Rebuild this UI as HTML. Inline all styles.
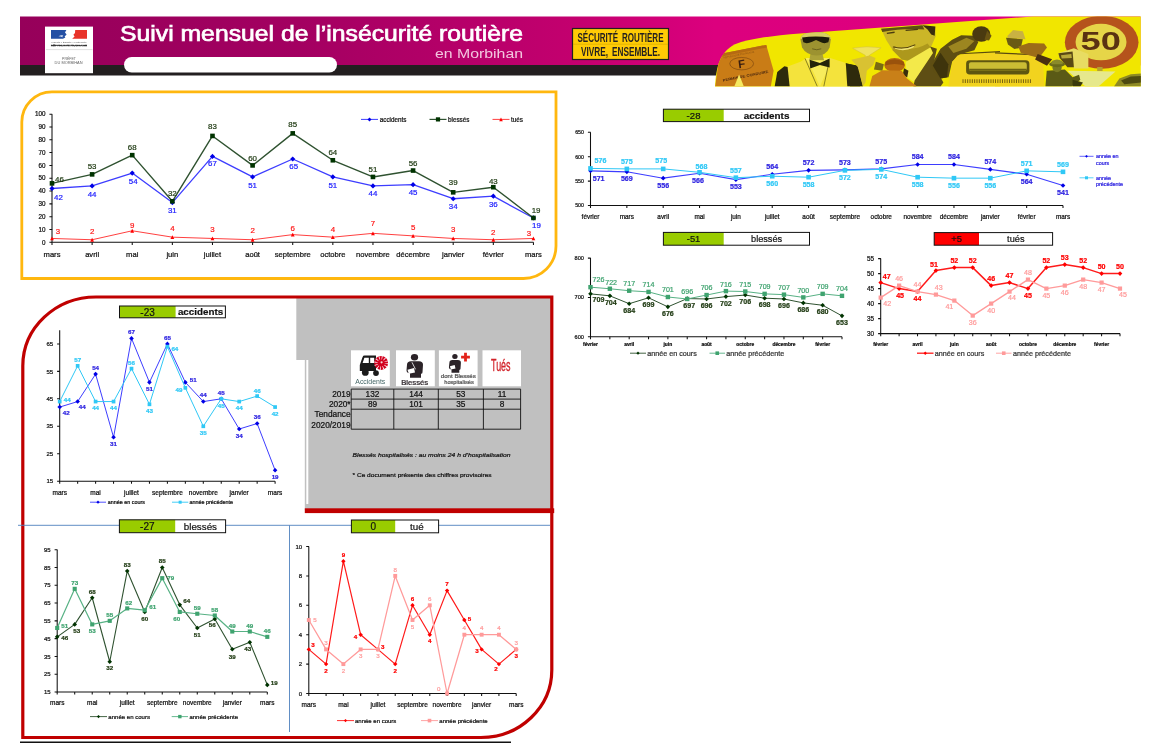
<!DOCTYPE html>
<html lang="fr"><head><meta charset="utf-8"><title>Suivi mensuel de l'insécurité routière en Morbihan</title>
<style>html,body{margin:0;padding:0;background:#fff}body{width:1160px;height:743px;overflow:hidden}svg{display:block}text{font-family:'Liberation Sans', sans-serif}</style>
</head><body>
<svg width="1160" height="743" viewBox="0 0 1160 743" font-family="'Liberation Sans', sans-serif">
<defs>
<linearGradient id="hg" x1="0" y1="0" x2="1" y2="0"><stop offset="0" stop-color="#96005a"/><stop offset="0.25" stop-color="#a30061"/><stop offset="0.5" stop-color="#c4006f"/><stop offset="0.62" stop-color="#dc007e"/><stop offset="1" stop-color="#e0007f"/></linearGradient>
<clipPath id="photo"><path d="M715 86.5C716 66 720 52 735 44.2C750 38.2 775 35.4 800 33.4L1033 16.5H1140.8V86.5Z"/></clipPath>
</defs>
<rect width="1160" height="743" fill="#fff"/>
<g id="header">
<rect x="20" y="16.5" width="1120.5" height="49" fill="url(#hg)"/>
<rect x="20" y="65" width="700" height="10.5" fill="#231f20"/>
<rect x="45" y="26.6" width="48" height="46.6" fill="#fff"/>
<path d="M51 30H66.4L65 32.4L66.6 34.6L64.6 36.4L65.4 37.6L63 38.8H51Z" fill="#2450a4"/>
<path d="M58.5 36.2Q61 34.6 63.4 35.4Q62 36 62.6 37.2Q60.6 36.4 58.5 36.2Z" fill="#dfe6f4"/>
<path d="M75.2 30H87V38.8H72.2L74.6 36.6L73.4 34.8L75 33Z" fill="#e8332a"/>
<g transform="translate(69,42.5) scale(0.1)"><text x="0" y="0" font-size="20" fill="#555" text-anchor="middle" textLength="350" lengthAdjust="spacingAndGlyphs" stroke="none">Liberté • Égalité • Fraternité</text></g>
<g transform="translate(69,46.1) scale(0.1)"><text x="0" y="0" font-size="23" fill="#333" text-anchor="middle" font-weight="bold" textLength="360" lengthAdjust="spacingAndGlyphs" stroke="#333" stroke-width="4" font-family="'Liberation Serif', serif">RÉPUBLIQUE FRANÇAISE</text></g>
<path d="M46 49.6H92.6" stroke="#c4c4c4" stroke-width="0.5"/>
<g transform="translate(69,59.9) scale(0.1)"><text x="0" y="0" font-size="29" fill="#666" text-anchor="middle" textLength="140" lengthAdjust="spacingAndGlyphs" stroke="none" font-family="'Liberation Serif', serif">PRÉFET</text></g>
<g transform="translate(68.6,63.7) scale(0.1)"><text x="0" y="0" font-size="29" fill="#666" text-anchor="middle" textLength="280" lengthAdjust="spacingAndGlyphs" stroke="none" font-family="'Liberation Serif', serif">DU MORBIHAN</text></g>
<rect x="124" y="57" width="213" height="15.5" rx="7.7" fill="#fff"/>
<text x="120" y="41.3" font-size="22.5" fill="#fff" stroke="#fff" stroke-width="0.7" textLength="403" lengthAdjust="spacingAndGlyphs">Suivi mensuel de l’insécurité routière</text>
<text x="523" y="57.5" font-size="12.5" fill="#f3c6df" text-anchor="end" textLength="88" lengthAdjust="spacingAndGlyphs">en Morbihan</text>
<rect x="572.5" y="28.5" width="96" height="31" fill="#ffcb05" stroke="#231f20" stroke-width="1.2"/>
<path d="M573 44.2H668" stroke="#c79a00" stroke-width="0.5"/>
<text x="620.5" y="42.1" font-size="12.2" word-spacing="2.5" fill="#231f20" font-weight="bold" text-anchor="middle" textLength="86" lengthAdjust="spacingAndGlyphs">SÉCURITÉ ROUTIÈRE</text>
<text x="620.5" y="56.4" font-size="12.2" word-spacing="2.5" fill="#231f20" font-weight="bold" text-anchor="middle" textLength="79" lengthAdjust="spacingAndGlyphs">VIVRE, ENSEMBLE.</text>
<g clip-path="url(#photo)">
<rect x="700" y="10" width="450" height="80" fill="#f1e600"/>
<g transform="translate(710,10) scale(0.12931)">
<path d="M75 340L435 270L492 470L470 592H40Z" fill="#c97c16"/>
<path d="M75 340L435 270L440 290L80 362Z" fill="#b56a12"/>
<ellipse cx="245" cy="415" rx="92" ry="48" fill="none" stroke="#6a3a10" stroke-width="4"/>
<text x="245" y="448" font-size="88" font-weight="bold" fill="#3a1e10" text-anchor="middle" transform="rotate(-8 245 420)">F</text>
<text x="225" y="352" font-size="19" fill="#8a5212" text-anchor="middle" transform="rotate(-11 225 352)" textLength="240" lengthAdjust="spacingAndGlyphs">RÉPUBLIQUE FRANÇAISE</text>
<text x="275" y="520" font-size="27" font-weight="bold" fill="#4a2810" text-anchor="middle" transform="rotate(-11 275 512)" textLength="360" lengthAdjust="spacingAndGlyphs">PERMIS DE CONDUIRE</text>
<path d="M225 498L262 592H188Z" fill="#f6ea60"/>
<path d="M590 440L700 400L745 372L930 372L1050 410L1062 592H600Z" fill="#f4e33c"/>
<path d="M740 372L930 372L905 470L850 592L800 480Z" fill="#f7ec5c"/>
<path d="M500 592L520 480L575 435L600 440L616 592Z" fill="#2e2a0c"/>
<path d="M1050 410L1120 430L1160 470V592H1062Z" fill="#2e2a0c"/>
<path d="M735 375L830 592M912 440L880 592" stroke="#4e4a10" stroke-width="5" fill="none"/>
<path d="M778 330L868 330L882 388L768 388Z" fill="#aca238"/>
<path d="M700 230Q700 172 818 170Q936 172 934 230L925 290Q900 352 825 352Q745 350 712 290Z" fill="#9c9230"/>
<path d="M700 225Q702 172 818 170Q934 172 934 225Q818 195 700 225Z" fill="#d6cf62"/>
<path d="M712 212Q818 198 925 212L915 250Q880 265 850 245L820 232L790 245Q750 265 722 250Z" fill="#1c1c0a"/>
<path d="M790 300Q825 315 860 300" stroke="#5a5418" stroke-width="6" fill="none"/>
<path d="M770 385L850 410L925 375L925 445L850 425L775 452Z" fill="#24240a"/>
</g>
<g transform="translate(850,10) scale(0.12931)">
<path d="M0 420L60 430L100 592H0Z" fill="#2e2a0c"/>
<path d="M20 295Q130 275 240 292L150 350V395H118V350Z" fill="#f0e35e" stroke="#d2bd34" stroke-width="4"/>
<path d="M10 385L150 352L198 372L180 425L130 470L120 560L100 592L60 440Z" fill="#d9c232"/>
<path d="M240 145L560 118L660 130L662 205L625 290L560 362L470 396L400 382L330 312L280 232Z" fill="#cbb628"/>
<path d="M330 312L400 382L470 396L560 362L625 290L600 260Q480 330 330 280Z" fill="#ad981c"/>
<path d="M560 118L660 128L655 200L628 190L600 150Z" fill="#3a2e0c"/>
<path d="M240 145L560 118L575 150Q400 140 250 170Z" fill="#5e4e12"/>
<path d="M285 180L345 172M430 158L525 150" stroke="#4a3c10" stroke-width="10" fill="none"/>
<path d="M335 285Q420 310 505 268" stroke="#5a4810" stroke-width="9" fill="none"/>
<path d="M345 292Q420 312 498 276L490 290Q420 325 350 300Z" fill="#efe37a"/>
<path d="M430 402L620 290L642 332L500 560L440 520Z" fill="#f3e94a"/>
<path d="M620 282L672 300L645 420L722 560L700 592H490L500 545L642 332Z" fill="#5e4e14"/>
<path d="M418 450L452 470L442 522L408 500Z" fill="#3a2e0c"/>
<path d="M200 400L262 420L250 470L185 460Z" fill="#7a6a14"/>
<ellipse cx="345" cy="425" rx="80" ry="54" fill="#b8690f"/>
<path d="M275 400Q345 360 415 400L420 430Q345 405 272 430Z" fill="#9a520c"/>
<path d="M150 592L172 510L250 465L400 470L440 530L512 585V592Z" fill="#c98018"/>
<path d="M630 420L700 300L790 230L860 195L960 200L992 250L962 312L850 342L790 400L762 520L700 530L650 480Z" fill="#5e4e12"/>
<path d="M760 282L900 215L962 240L900 300L800 332Z" fill="#9c8620"/>
<path d="M640 430L700 330L760 420L750 520L700 530Z" fill="#3e340c"/>
<ellipse cx="1015" cy="185" rx="70" ry="60" fill="#4a3a10"/>
<path d="M1060 160L1095 200L1075 235L1040 230Z" fill="#6a5412"/>
<path d="M760 592L792 400L832 352L900 336L1160 330V592Z" fill="#f2d31e"/>
<path d="M850 338L1160 322" stroke="#5a4a10" stroke-width="9" fill="none"/>
<path d="M925 388H1160V498H925Q898 498 898 471V415Q898 388 925 388Z" fill="#5e5610"/>
<path d="M935 405H1160V470H935Q920 470 920 455V420Q920 405 935 405Z" fill="#cabd34"/>
<path d="M920 455H1160V470H935Q920 470 920 455Z" fill="#6a6212"/>
<path d="M870 550H1160" stroke="#7a6410" stroke-width="28" stroke-dasharray="8 10" fill="none"/>
</g>
<g transform="translate(995,10) scale(0.12931)">
<path d="M0 332L300 345L372 400L382 592H0Z" fill="#f2d31e"/>
<path d="M0 332L300 345" stroke="#5a4a10" stroke-width="9" fill="none"/>
<path d="M0 388H238Q266 388 266 416V470Q266 498 238 498H0Z" fill="#5e5610"/>
<path d="M0 405H228Q246 405 246 423V452Q246 470 228 470H0Z" fill="#cabd34"/>
<path d="M0 455H246Q246 470 228 470H0Z" fill="#6a6212"/>
<path d="M0 550H282" stroke="#7a6410" stroke-width="28" stroke-dasharray="8 10" fill="none"/>
<path d="M95 202L140 155L215 165L236 226L100 216Z" fill="#c9b242"/>
<path d="M85 215L215 226L200 292L150 302L100 266Z" fill="#6a5a14"/>
<path d="M180 282L260 256L380 260L402 290L340 372L200 332Z" fill="#9c6c18"/>
<path d="M330 340L442 380L402 432L310 382Z" fill="#4a3010"/>
<ellipse cx="825" cy="250" rx="285" ry="205" fill="#b5531c"/>
<ellipse cx="820" cy="248" rx="197" ry="141" fill="#e6d548"/>
<text x="818" y="312" font-size="205" font-weight="bold" fill="#5a3212" text-anchor="middle" textLength="312" lengthAdjust="spacingAndGlyphs">50</text>
<path d="M790 440H832V472H790Z" fill="#b5a030"/>
<path d="M490 335L610 295L722 340V452H610L600 380L500 372Z" fill="#e8dc62"/>
<path d="M490 335L600 320L610 442L560 442L500 372Z" fill="#5a4a14"/>
<path d="M510 350L590 340L594 372L516 376Z" fill="#b8a83a"/>
<path d="M560 470L932 476L800 592H700Z" fill="#e6e88c"/>
<path d="M400 470L540 460L600 520L650 500L660 540L592 592H390Z" fill="#5a5a16"/>
<ellipse cx="480" cy="445" rx="36" ry="36" fill="#7a7a24"/>
<ellipse cx="480" cy="420" rx="62" ry="22" fill="#6a6a1a"/>
<path d="M440 395Q480 370 520 395L525 420H435Z" fill="#8a8a2a"/>
<path d="M600 540L680 560L660 592H600Z" fill="#3a3a0c"/>
<path d="M920 592L962 530L1050 496L1132 490V592Z" fill="#8e8a24"/>
<path d="M975 545L1050 515L1132 510V560L1000 575Z" fill="#4e4a10"/>
</g>
</g>

</g>
<g id="c1">
<path d="M52 91.8H556V246A32.5 32.5 0 0 1 523.5 278.5H21.8V122A30.2 30.2 0 0 1 52 91.8Z" fill="#fff" stroke="#ffb70f" stroke-width="2.8"/>
<path d="M52 114.15V242.3H533.44" fill="none" stroke="#111" stroke-width="1.05"/>
<path d="M49.4 242.3h2.8M49.4 229.49h2.8M49.4 216.67h2.8M49.4 203.86h2.8M49.4 191.04h2.8M49.4 178.23h2.8M49.4 165.41h2.8M49.4 152.59h2.8M49.4 139.78h2.8M49.4 126.97h2.8M49.4 114.15h2.8M52 242.3v2.6M92.12 242.3v2.6M132.24 242.3v2.6M172.36 242.3v2.6M212.48 242.3v2.6M252.6 242.3v2.6M292.72 242.3v2.6M332.84 242.3v2.6M372.96 242.3v2.6M413.08 242.3v2.6M453.2 242.3v2.6M493.32 242.3v2.6M533.44 242.3v2.6" stroke="#111" stroke-width="1.05" fill="none"/>
<text x="45.4" y="244.57" font-size="6.3" fill="#111" text-anchor="end" stroke="#111" stroke-width="0.22">0</text>
<text x="45.4" y="231.75" font-size="6.3" fill="#111" text-anchor="end" stroke="#111" stroke-width="0.22">10</text>
<text x="45.4" y="218.94" font-size="6.3" fill="#111" text-anchor="end" stroke="#111" stroke-width="0.22">20</text>
<text x="45.4" y="206.12" font-size="6.3" fill="#111" text-anchor="end" stroke="#111" stroke-width="0.22">30</text>
<text x="45.4" y="193.31" font-size="6.3" fill="#111" text-anchor="end" stroke="#111" stroke-width="0.22">40</text>
<text x="45.4" y="180.49" font-size="6.3" fill="#111" text-anchor="end" stroke="#111" stroke-width="0.22">50</text>
<text x="45.4" y="167.68" font-size="6.3" fill="#111" text-anchor="end" stroke="#111" stroke-width="0.22">60</text>
<text x="45.4" y="154.86" font-size="6.3" fill="#111" text-anchor="end" stroke="#111" stroke-width="0.22">70</text>
<text x="45.4" y="142.05" font-size="6.3" fill="#111" text-anchor="end" stroke="#111" stroke-width="0.22">80</text>
<text x="45.4" y="129.23" font-size="6.3" fill="#111" text-anchor="end" stroke="#111" stroke-width="0.22">90</text>
<text x="45.4" y="116.42" font-size="6.3" fill="#111" text-anchor="end" stroke="#111" stroke-width="0.22">100</text>
<text x="52" y="256.8" font-size="7.6" fill="#111" text-anchor="middle" stroke="#111" stroke-width="0.22">mars</text>
<text x="92.12" y="256.8" font-size="7.6" fill="#111" text-anchor="middle" stroke="#111" stroke-width="0.22">avril</text>
<text x="132.24" y="256.8" font-size="7.6" fill="#111" text-anchor="middle" stroke="#111" stroke-width="0.22">mai</text>
<text x="172.36" y="256.8" font-size="7.6" fill="#111" text-anchor="middle" stroke="#111" stroke-width="0.22">juin</text>
<text x="212.48" y="256.8" font-size="7.6" fill="#111" text-anchor="middle" stroke="#111" stroke-width="0.22">juillet</text>
<text x="252.6" y="256.8" font-size="7.6" fill="#111" text-anchor="middle" stroke="#111" stroke-width="0.22">août</text>
<text x="292.72" y="256.8" font-size="7.6" fill="#111" text-anchor="middle" stroke="#111" stroke-width="0.22">septembre</text>
<text x="332.84" y="256.8" font-size="7.6" fill="#111" text-anchor="middle" stroke="#111" stroke-width="0.22">octobre</text>
<text x="372.96" y="256.8" font-size="7.6" fill="#111" text-anchor="middle" stroke="#111" stroke-width="0.22">novembre</text>
<text x="413.08" y="256.8" font-size="7.6" fill="#111" text-anchor="middle" stroke="#111" stroke-width="0.22">décembre</text>
<text x="453.2" y="256.8" font-size="7.6" fill="#111" text-anchor="middle" stroke="#111" stroke-width="0.22">janvier</text>
<text x="493.32" y="256.8" font-size="7.6" fill="#111" text-anchor="middle" stroke="#111" stroke-width="0.22">février</text>
<text x="533.44" y="256.8" font-size="7.6" fill="#111" text-anchor="middle" stroke="#111" stroke-width="0.22">mars</text>
<polyline points="52,188.48 92.12,185.91 132.24,173.1 172.36,202.57 212.48,156.44 252.6,176.94 292.72,159 332.84,176.94 372.96,185.91 413.08,184.63 453.2,198.73 493.32,196.17 533.44,217.95" fill="none" stroke="#3d3dff" stroke-width="1.3" stroke-linejoin="round"/>
<path d="M52 185.88L54.6 188.48L52 191.08L49.4 188.48Z" fill="#0000e6"/>
<path d="M92.12 183.31L94.72 185.91L92.12 188.51L89.52 185.91Z" fill="#0000e6"/>
<path d="M132.24 170.5L134.84 173.1L132.24 175.7L129.64 173.1Z" fill="#0000e6"/>
<path d="M172.36 199.97L174.96 202.57L172.36 205.17L169.76 202.57Z" fill="#0000e6"/>
<path d="M212.48 153.84L215.08 156.44L212.48 159.04L209.88 156.44Z" fill="#0000e6"/>
<path d="M252.6 174.34L255.2 176.94L252.6 179.54L250 176.94Z" fill="#0000e6"/>
<path d="M292.72 156.4L295.32 159L292.72 161.6L290.12 159Z" fill="#0000e6"/>
<path d="M332.84 174.34L335.44 176.94L332.84 179.54L330.24 176.94Z" fill="#0000e6"/>
<path d="M372.96 183.31L375.56 185.91L372.96 188.51L370.36 185.91Z" fill="#0000e6"/>
<path d="M413.08 182.03L415.68 184.63L413.08 187.23L410.48 184.63Z" fill="#0000e6"/>
<path d="M453.2 196.13L455.8 198.73L453.2 201.33L450.6 198.73Z" fill="#0000e6"/>
<path d="M493.32 193.57L495.92 196.17L493.32 198.77L490.72 196.17Z" fill="#0000e6"/>
<path d="M533.44 215.35L536.04 217.95L533.44 220.55L530.84 217.95Z" fill="#0000e6"/>
<text x="54" y="199.88" font-size="7.9" fill="#2222ff" text-anchor="start" stroke="#2222ff" stroke-width="0.22">42</text>
<text x="92.12" y="197.31" font-size="7.9" fill="#2222ff" text-anchor="middle" stroke="#2222ff" stroke-width="0.22">44</text>
<text x="133.24" y="183.6" font-size="7.9" fill="#2222ff" text-anchor="middle" stroke="#2222ff" stroke-width="0.22">54</text>
<text x="172.36" y="213.07" font-size="7.9" fill="#2222ff" text-anchor="middle" stroke="#2222ff" stroke-width="0.22">31</text>
<text x="212.48" y="165.94" font-size="7.9" fill="#2222ff" text-anchor="middle" stroke="#2222ff" stroke-width="0.22">67</text>
<text x="252.6" y="188.34" font-size="7.9" fill="#2222ff" text-anchor="middle" stroke="#2222ff" stroke-width="0.22">51</text>
<text x="293.72" y="168.9" font-size="7.9" fill="#2222ff" text-anchor="middle" stroke="#2222ff" stroke-width="0.22">65</text>
<text x="332.84" y="188.34" font-size="7.9" fill="#2222ff" text-anchor="middle" stroke="#2222ff" stroke-width="0.22">51</text>
<text x="372.96" y="196.41" font-size="7.9" fill="#2222ff" text-anchor="middle" stroke="#2222ff" stroke-width="0.22">44</text>
<text x="413.08" y="194.53" font-size="7.9" fill="#2222ff" text-anchor="middle" stroke="#2222ff" stroke-width="0.22">45</text>
<text x="453.2" y="208.63" font-size="7.9" fill="#2222ff" text-anchor="middle" stroke="#2222ff" stroke-width="0.22">34</text>
<text x="493.32" y="206.87" font-size="7.9" fill="#2222ff" text-anchor="middle" stroke="#2222ff" stroke-width="0.22">36</text>
<text x="536.44" y="227.95" font-size="7.9" fill="#2222ff" text-anchor="middle" stroke="#2222ff" stroke-width="0.22">19</text>
<polyline points="52,183.35 92.12,174.38 132.24,155.16 172.36,201.29 212.48,135.94 252.6,165.41 292.72,133.37 332.84,160.28 372.96,176.94 413.08,170.54 453.2,192.32 493.32,187.2 533.44,217.95" fill="none" stroke="#2f5230" stroke-width="1.4" stroke-linejoin="round"/>
<rect x="49.7" y="181.05" width="4.6" height="4.6" fill="#003300"/>
<rect x="89.82" y="172.08" width="4.6" height="4.6" fill="#003300"/>
<rect x="129.94" y="152.86" width="4.6" height="4.6" fill="#003300"/>
<rect x="170.06" y="198.99" width="4.6" height="4.6" fill="#003300"/>
<rect x="210.18" y="133.64" width="4.6" height="4.6" fill="#003300"/>
<rect x="250.3" y="163.11" width="4.6" height="4.6" fill="#003300"/>
<rect x="290.42" y="131.07" width="4.6" height="4.6" fill="#003300"/>
<rect x="330.54" y="157.98" width="4.6" height="4.6" fill="#003300"/>
<rect x="370.66" y="174.64" width="4.6" height="4.6" fill="#003300"/>
<rect x="410.78" y="168.24" width="4.6" height="4.6" fill="#003300"/>
<rect x="450.9" y="190.02" width="4.6" height="4.6" fill="#003300"/>
<rect x="491.02" y="184.9" width="4.6" height="4.6" fill="#003300"/>
<rect x="531.14" y="215.65" width="4.6" height="4.6" fill="#003300"/>
<text x="55" y="181.65" font-size="7.9" fill="#1f3a12" text-anchor="start" stroke="#1f3a12" stroke-width="0.22">46</text>
<text x="92.12" y="169.38" font-size="7.9" fill="#1f3a12" text-anchor="middle" stroke="#1f3a12" stroke-width="0.22">53</text>
<text x="132.24" y="150.16" font-size="7.9" fill="#1f3a12" text-anchor="middle" stroke="#1f3a12" stroke-width="0.22">68</text>
<text x="172.36" y="196.29" font-size="7.9" fill="#1f3a12" text-anchor="middle" stroke="#1f3a12" stroke-width="0.22">32</text>
<text x="212.48" y="129.34" font-size="7.9" fill="#1f3a12" text-anchor="middle" stroke="#1f3a12" stroke-width="0.22">83</text>
<text x="252.6" y="161.41" font-size="7.9" fill="#1f3a12" text-anchor="middle" stroke="#1f3a12" stroke-width="0.22">60</text>
<text x="292.72" y="126.57" font-size="7.9" fill="#1f3a12" text-anchor="middle" stroke="#1f3a12" stroke-width="0.22">85</text>
<text x="332.84" y="155.28" font-size="7.9" fill="#1f3a12" text-anchor="middle" stroke="#1f3a12" stroke-width="0.22">64</text>
<text x="372.96" y="171.94" font-size="7.9" fill="#1f3a12" text-anchor="middle" stroke="#1f3a12" stroke-width="0.22">51</text>
<text x="413.08" y="165.54" font-size="7.9" fill="#1f3a12" text-anchor="middle" stroke="#1f3a12" stroke-width="0.22">56</text>
<text x="453.2" y="184.92" font-size="7.9" fill="#1f3a12" text-anchor="middle" stroke="#1f3a12" stroke-width="0.22">39</text>
<text x="493.32" y="184.4" font-size="7.9" fill="#1f3a12" text-anchor="middle" stroke="#1f3a12" stroke-width="0.22">43</text>
<text x="536.04" y="213.45" font-size="7.9" fill="#1f3a12" text-anchor="middle" stroke="#1f3a12" stroke-width="0.22">19</text>
<polyline points="52,238.46 92.12,239.74 132.24,230.77 172.36,237.17 212.48,238.46 252.6,239.74 292.72,234.61 332.84,237.17 372.96,233.33 413.08,235.89 453.2,238.46 493.32,239.74 533.44,238.46" fill="none" stroke="#ff2a2a" stroke-width="0.9" stroke-linejoin="round"/>
<path d="M52 236.56L53.9 240.36L50.1 240.36Z" fill="#ff0000"/>
<path d="M92.12 237.84L94.02 241.64L90.22 241.64Z" fill="#ff0000"/>
<path d="M132.24 228.87L134.14 232.67L130.34 232.67Z" fill="#ff0000"/>
<path d="M172.36 235.27L174.26 239.07L170.46 239.07Z" fill="#ff0000"/>
<path d="M212.48 236.56L214.38 240.36L210.58 240.36Z" fill="#ff0000"/>
<path d="M252.6 237.84L254.5 241.64L250.7 241.64Z" fill="#ff0000"/>
<path d="M292.72 232.71L294.62 236.51L290.82 236.51Z" fill="#ff0000"/>
<path d="M332.84 235.27L334.74 239.07L330.94 239.07Z" fill="#ff0000"/>
<path d="M372.96 231.43L374.86 235.23L371.06 235.23Z" fill="#ff0000"/>
<path d="M413.08 233.99L414.98 237.79L411.18 237.79Z" fill="#ff0000"/>
<path d="M453.2 236.56L455.1 240.36L451.3 240.36Z" fill="#ff0000"/>
<path d="M493.32 237.84L495.22 241.64L491.42 241.64Z" fill="#ff0000"/>
<path d="M533.44 236.56L535.34 240.36L531.54 240.36Z" fill="#ff0000"/>
<text x="58" y="233.96" font-size="7.9" fill="#ff1a1a" text-anchor="middle" stroke="#ff1a1a" stroke-width="0.22">3</text>
<text x="92.12" y="234.44" font-size="7.9" fill="#ff1a1a" text-anchor="middle" stroke="#ff1a1a" stroke-width="0.22">2</text>
<text x="132.24" y="228.07" font-size="7.9" fill="#ff1a1a" text-anchor="middle" stroke="#ff1a1a" stroke-width="0.22">9</text>
<text x="172.36" y="231.17" font-size="7.9" fill="#ff1a1a" text-anchor="middle" stroke="#ff1a1a" stroke-width="0.22">4</text>
<text x="212.48" y="231.76" font-size="7.9" fill="#ff1a1a" text-anchor="middle" stroke="#ff1a1a" stroke-width="0.22">3</text>
<text x="252.6" y="233.04" font-size="7.9" fill="#ff1a1a" text-anchor="middle" stroke="#ff1a1a" stroke-width="0.22">2</text>
<text x="292.72" y="230.71" font-size="7.9" fill="#ff1a1a" text-anchor="middle" stroke="#ff1a1a" stroke-width="0.22">6</text>
<text x="332.84" y="232.27" font-size="7.9" fill="#ff1a1a" text-anchor="middle" stroke="#ff1a1a" stroke-width="0.22">4</text>
<text x="372.96" y="226.13" font-size="7.9" fill="#ff1a1a" text-anchor="middle" stroke="#ff1a1a" stroke-width="0.22">7</text>
<text x="413.08" y="229.69" font-size="7.9" fill="#ff1a1a" text-anchor="middle" stroke="#ff1a1a" stroke-width="0.22">5</text>
<text x="453.2" y="232.36" font-size="7.9" fill="#ff1a1a" text-anchor="middle" stroke="#ff1a1a" stroke-width="0.22">3</text>
<text x="493.32" y="234.84" font-size="7.9" fill="#ff1a1a" text-anchor="middle" stroke="#ff1a1a" stroke-width="0.22">2</text>
<text x="528.84" y="236.46" font-size="7.9" fill="#ff1a1a" text-anchor="middle" stroke="#ff1a1a" stroke-width="0.22">3</text>
<path d="M361 119.4H378" stroke="#3d3dff" stroke-width="1"/>
<path d="M369.5 117.4L371.5 119.4L369.5 121.4L367.5 119.4Z" fill="#0000e6"/>
<text x="379.8" y="121.54" font-size="6.3" fill="#111" stroke="#111" stroke-width="0.22">accidents</text>
<path d="M429.5 119.4H446.5" stroke="#2f5230" stroke-width="1.2"/>
<rect x="435.9" y="117.3" width="4.2" height="4.2" fill="#003300"/>
<text x="448" y="121.54" font-size="6.3" fill="#111" stroke="#111" stroke-width="0.22">blessés</text>
<path d="M492.5 119.4H509.5" stroke="#ff2a2a" stroke-width="0.9"/>
<path d="M501 117.6L502.8 121.2L499.2 121.2Z" fill="#ff0000"/>
<text x="511" y="121.54" font-size="6.3" fill="#111" stroke="#111" stroke-width="0.22">tués</text>
</g>
<g id="frame">
<rect x="296.3" y="298" width="255" height="62" fill="#c0c0c0"/>
<rect x="304.8" y="359" width="246.5" height="151" fill="#c0c0c0"/>
<rect x="306.3" y="360" width="2" height="144" fill="#fff"/>
<rect x="304.8" y="508.3" width="249.4" height="4.8" fill="#c00000"/>
<path d="M96 297H551.8V670A71 67.5 0 0 1 480.8 737.5H22.8V366A73.2 69 0 0 1 96 297Z" fill="none" stroke="#c00000" stroke-width="3.2"/>
<path d="M20 742.2H511" stroke="#111" stroke-width="1.4"/>
<path d="M18 525.3H550M289.5 525.3V732" stroke="#4f81bd" stroke-width="0.9" fill="none"/>
</g>
<g id="table">
<rect x="351" y="350.3" width="38.8" height="36" fill="#fff"/>
<rect x="396" y="350.3" width="38.8" height="36" fill="#fff"/>
<rect x="438.9" y="350.3" width="38.7" height="36" fill="#fff"/>
<rect x="482.5" y="350.3" width="38.5" height="36" fill="#fff"/>
<g transform="translate(351,350.3)">
<path d="M8.8 14.6L11.6 6.6Q12 5.2 13.6 5.2H25V20.8H8.8Z" fill="#1a1a1a"/>
<path d="M13.4 7.4h4.4v5.4h-6.2zM19.2 7.4h4v5.4h-4z" fill="#fff"/>
<circle cx="14.3" cy="22.1" r="3.4" fill="#1a1a1a"/><circle cx="25" cy="22.8" r="2.9" fill="#1a1a1a"/>
<circle cx="30.1" cy="12.6" r="7" fill="#d2001e"/>
<circle cx="30.1" cy="12.6" r="5.2" fill="none" stroke="#fff" stroke-width="3.4" stroke-dasharray="0.7 2.02"/>
<circle cx="30.1" cy="12.6" r="2.4" fill="#d2001e"/><circle cx="30.6" cy="12" r="1.1" fill="#f3dada"/>
<text x="19.3" y="33.4" font-size="8" fill="#456767" text-anchor="middle" textLength="30" lengthAdjust="spacingAndGlyphs" stroke="none">Accidents</text>
</g>
<g transform="translate(396,350.3)">
<ellipse cx="18.5" cy="7" rx="3.6" ry="3.2" fill="#2b2328"/>
<path d="M11 14.5Q11 11 15 11H23Q27 11 27 14.5L26.5 22Q26.5 23.5 25 23.5V27.5H14V23Q10.5 23 10.5 20Z" fill="#2b2328"/>
<path d="M11.5 19.5L18 17.6L19 22.2L12.8 23.4Z" fill="#fff"/><path d="M16 12L19.5 19" stroke="#fff" stroke-width="0.8"/>
<text x="18.7" y="34.6" font-size="6.6" fill="#2b2328" text-anchor="middle" textLength="27" lengthAdjust="spacingAndGlyphs" stroke="#2b2328" stroke-width="0.22">Blessés</text>
</g>
<g transform="translate(438.9,350.3)">
<ellipse cx="16" cy="6.2" rx="2.7" ry="2.5" fill="#2b2328"/>
<path d="M10.5 12.5Q10.5 9.8 13.5 9.8H19Q22 9.8 22 12.5L21.6 18.5Q21.6 19.6 20.4 19.6V22.5H12.6V19.2Q10 19.2 10 17Z" fill="#2b2328"/>
<path d="M11 16L15.8 14.6L16.6 18.2L12 19.2Z" fill="#fff"/>
<path d="M25.2 2.4h2.8v3h3v2.8h-3v3h-2.8v-3h-3V5.4h3z" fill="#e2231a"/>
<text x="19.4" y="27.6" font-size="5.3" fill="#555" text-anchor="middle" textLength="35" lengthAdjust="spacingAndGlyphs" stroke="#555" stroke-width="0.22">dont Blessés</text>
<text x="20.1" y="33.6" font-size="5.3" fill="#555" text-anchor="middle" textLength="29.5" lengthAdjust="spacingAndGlyphs" stroke="#555" stroke-width="0.22">hospitalisés</text>
</g>
<text x="500.8" y="371.4" font-size="16.5" fill="#d2232a" stroke="#d2232a" stroke-width="0.35" text-anchor="middle" textLength="19.5" lengthAdjust="spacingAndGlyphs">Tués</text>
<path d="M351.2 389.1V429.2M393.8 389.1V429.2M438.3 389.1V429.2M483.4 389.1V429.2M520.6 389.1V429.2M351.2 389.1H520.6M351.2 399.1H520.6M351.2 409.2H520.6M351.2 429.2H520.6" stroke="#111" stroke-width="0.9" fill="none"/>
<text x="372.5" y="397.1" font-size="8.3" fill="#111" text-anchor="middle" stroke="#111" stroke-width="0.22">132</text>
<text x="416.05" y="397.1" font-size="8.3" fill="#111" text-anchor="middle" stroke="#111" stroke-width="0.22">144</text>
<text x="460.85" y="397.1" font-size="8.3" fill="#111" text-anchor="middle" stroke="#111" stroke-width="0.22">53</text>
<text x="502" y="397.1" font-size="8.3" fill="#111" text-anchor="middle" stroke="#111" stroke-width="0.22">11</text>
<text x="372.5" y="407.1" font-size="8.3" fill="#111" text-anchor="middle" stroke="#111" stroke-width="0.22">89</text>
<text x="416.05" y="407.1" font-size="8.3" fill="#111" text-anchor="middle" stroke="#111" stroke-width="0.22">101</text>
<text x="460.85" y="407.1" font-size="8.3" fill="#111" text-anchor="middle" stroke="#111" stroke-width="0.22">35</text>
<text x="502" y="407.1" font-size="8.3" fill="#111" text-anchor="middle" stroke="#111" stroke-width="0.22">8</text>
<text x="350.6" y="397" font-size="8.3" fill="#111" text-anchor="end" stroke="#111" stroke-width="0.22">2019</text>
<text x="350.6" y="407" font-size="8.3" fill="#111" text-anchor="end" stroke="#111" stroke-width="0.22">2020*</text>
<text x="350.6" y="417.3" font-size="8.3" fill="#111" text-anchor="end" stroke="#111" stroke-width="0.22">Tendance</text>
<text x="350.6" y="427.5" font-size="8.3" fill="#111" text-anchor="end" stroke="#111" stroke-width="0.22">2020/2019</text>
<text x="352.6" y="456.5" font-size="6.1" fill="#111" font-style="italic" textLength="158" lengthAdjust="spacingAndGlyphs" stroke="#111" stroke-width="0.22">Blessés hospitalisés : au moins 24 h d’hospitalisation</text>
<text x="352.6" y="477" font-size="6.1" fill="#111" textLength="139" lengthAdjust="spacingAndGlyphs" stroke="#111" stroke-width="0.22">* Ce document présente des chiffres provisoires</text>
</g>
<g id="c2">
<rect x="119.5" y="306" width="105.9" height="11.8" fill="#fff"/>
<rect x="119.5" y="306" width="56.1" height="11.8" fill="#99cc00"/>
<rect x="119.5" y="306" width="105.9" height="11.8" fill="none" stroke="#111" stroke-width="1"/>
<text x="147.55" y="315.5" font-size="10" fill="#111" text-anchor="middle" stroke="#111" stroke-width="0.2">-23</text>
<text x="200.5" y="315.23" font-size="9.8" fill="#111" text-anchor="middle" font-weight="bold" stroke="#111" stroke-width="0.2">accidents</text>
<path d="M59.7 330.17V481.2H275.1" fill="none" stroke="#111" stroke-width="1.05"/>
<path d="M57.1 481.2h2.8M57.1 453.74h2.8M57.1 426.28h2.8M57.1 398.82h2.8M57.1 371.36h2.8M57.1 343.9h2.8M59.7 481.2v2.6M77.65 481.2v2.6M95.6 481.2v2.6M113.55 481.2v2.6M131.5 481.2v2.6M149.45 481.2v2.6M167.4 481.2v2.6M185.35 481.2v2.6M203.3 481.2v2.6M221.25 481.2v2.6M239.2 481.2v2.6M257.15 481.2v2.6M275.1 481.2v2.6" stroke="#111" stroke-width="1.05" fill="none"/>
<text x="53.1" y="483.36" font-size="6" fill="#111" text-anchor="end" stroke="#111" stroke-width="0.22">15</text>
<text x="53.1" y="455.9" font-size="6" fill="#111" text-anchor="end" stroke="#111" stroke-width="0.22">25</text>
<text x="53.1" y="428.44" font-size="6" fill="#111" text-anchor="end" stroke="#111" stroke-width="0.22">35</text>
<text x="53.1" y="400.98" font-size="6" fill="#111" text-anchor="end" stroke="#111" stroke-width="0.22">45</text>
<text x="53.1" y="373.52" font-size="6" fill="#111" text-anchor="end" stroke="#111" stroke-width="0.22">55</text>
<text x="53.1" y="346.06" font-size="6" fill="#111" text-anchor="end" stroke="#111" stroke-width="0.22">65</text>
<text x="59.7" y="494.8" font-size="6.5" fill="#111" text-anchor="middle" stroke="#111" stroke-width="0.22">mars</text>
<text x="95.6" y="494.8" font-size="6.5" fill="#111" text-anchor="middle" stroke="#111" stroke-width="0.22">mai</text>
<text x="131.5" y="494.8" font-size="6.5" fill="#111" text-anchor="middle" stroke="#111" stroke-width="0.22">juillet</text>
<text x="167.4" y="494.8" font-size="6.5" fill="#111" text-anchor="middle" stroke="#111" stroke-width="0.22">septembre</text>
<text x="203.3" y="494.8" font-size="6.5" fill="#111" text-anchor="middle" stroke="#111" stroke-width="0.22">novembre</text>
<text x="239.2" y="494.8" font-size="6.5" fill="#111" text-anchor="middle" stroke="#111" stroke-width="0.22">janvier</text>
<text x="275.1" y="494.8" font-size="6.5" fill="#111" text-anchor="middle" stroke="#111" stroke-width="0.22">mars</text>
<polyline points="59.7,407.06 77.65,401.57 95.6,374.11 113.55,437.26 131.5,338.41 149.45,382.34 167.4,343.9 185.35,382.34 203.3,401.57 221.25,398.82 239.2,429.03 257.15,423.53 275.1,470.22" fill="none" stroke="#3d3dff" stroke-width="1" stroke-linejoin="round"/>
<path d="M59.7 404.76L62 407.06L59.7 409.36L57.4 407.06Z" fill="#0000e6"/>
<path d="M77.65 399.27L79.95 401.57L77.65 403.87L75.35 401.57Z" fill="#0000e6"/>
<path d="M95.6 371.81L97.9 374.11L95.6 376.41L93.3 374.11Z" fill="#0000e6"/>
<path d="M113.55 434.96L115.85 437.26L113.55 439.56L111.25 437.26Z" fill="#0000e6"/>
<path d="M131.5 336.11L133.8 338.41L131.5 340.71L129.2 338.41Z" fill="#0000e6"/>
<path d="M149.45 380.04L151.75 382.34L149.45 384.64L147.15 382.34Z" fill="#0000e6"/>
<path d="M167.4 341.6L169.7 343.9L167.4 346.2L165.1 343.9Z" fill="#0000e6"/>
<path d="M185.35 380.04L187.65 382.34L185.35 384.64L183.05 382.34Z" fill="#0000e6"/>
<path d="M203.3 399.27L205.6 401.57L203.3 403.87L201 401.57Z" fill="#0000e6"/>
<path d="M221.25 396.52L223.55 398.82L221.25 401.12L218.95 398.82Z" fill="#0000e6"/>
<path d="M239.2 426.73L241.5 429.03L239.2 431.33L236.9 429.03Z" fill="#0000e6"/>
<path d="M257.15 421.23L259.45 423.53L257.15 425.83L254.85 423.53Z" fill="#0000e6"/>
<path d="M275.1 467.92L277.4 470.22L275.1 472.52L272.8 470.22Z" fill="#0000e6"/>
<text x="62.7" y="414.56" font-size="6.2" fill="#2a1fe0" text-anchor="start" font-weight="bold" stroke="#2a1fe0" stroke-width="0.22">42</text>
<text x="82.15" y="409.07" font-size="6.2" fill="#2a1fe0" text-anchor="middle" font-weight="bold" stroke="#2a1fe0" stroke-width="0.22">44</text>
<text x="95.6" y="369.81" font-size="6.2" fill="#2a1fe0" text-anchor="middle" font-weight="bold" stroke="#2a1fe0" stroke-width="0.22">54</text>
<text x="113.55" y="445.86" font-size="6.2" fill="#2a1fe0" text-anchor="middle" font-weight="bold" stroke="#2a1fe0" stroke-width="0.22">31</text>
<text x="131.5" y="334.11" font-size="6.2" fill="#2a1fe0" text-anchor="middle" font-weight="bold" stroke="#2a1fe0" stroke-width="0.22">67</text>
<text x="149.45" y="390.94" font-size="6.2" fill="#2a1fe0" text-anchor="middle" font-weight="bold" stroke="#2a1fe0" stroke-width="0.22">51</text>
<text x="167.4" y="339.6" font-size="6.2" fill="#2a1fe0" text-anchor="middle" font-weight="bold" stroke="#2a1fe0" stroke-width="0.22">65</text>
<text x="189.85" y="382.34" font-size="6.2" fill="#2a1fe0" text-anchor="start" font-weight="bold" stroke="#2a1fe0" stroke-width="0.22">51</text>
<text x="203.3" y="397.27" font-size="6.2" fill="#2a1fe0" text-anchor="middle" font-weight="bold" stroke="#2a1fe0" stroke-width="0.22">44</text>
<text x="221.25" y="394.52" font-size="6.2" fill="#2a1fe0" text-anchor="middle" font-weight="bold" stroke="#2a1fe0" stroke-width="0.22">45</text>
<text x="239.2" y="437.63" font-size="6.2" fill="#2a1fe0" text-anchor="middle" font-weight="bold" stroke="#2a1fe0" stroke-width="0.22">34</text>
<text x="257.15" y="419.23" font-size="6.2" fill="#2a1fe0" text-anchor="middle" font-weight="bold" stroke="#2a1fe0" stroke-width="0.22">36</text>
<text x="275.1" y="478.82" font-size="6.2" fill="#2a1fe0" text-anchor="middle" font-weight="bold" stroke="#2a1fe0" stroke-width="0.22">19</text>
<polyline points="59.7,401.57 77.65,365.87 95.6,401.57 113.55,401.57 131.5,368.61 149.45,404.31 167.4,346.65 185.35,387.84 203.3,426.28 221.25,398.82 239.2,401.57 257.15,396.07 275.1,407.06" fill="none" stroke="#2fc8f6" stroke-width="1" stroke-linejoin="round"/>
<rect x="57.85" y="399.72" width="3.7" height="3.7" fill="#2fc8f6"/>
<rect x="75.8" y="364.02" width="3.7" height="3.7" fill="#2fc8f6"/>
<rect x="93.75" y="399.72" width="3.7" height="3.7" fill="#2fc8f6"/>
<rect x="111.7" y="399.72" width="3.7" height="3.7" fill="#2fc8f6"/>
<rect x="129.65" y="366.76" width="3.7" height="3.7" fill="#2fc8f6"/>
<rect x="147.6" y="402.46" width="3.7" height="3.7" fill="#2fc8f6"/>
<rect x="165.55" y="344.8" width="3.7" height="3.7" fill="#2fc8f6"/>
<rect x="183.5" y="385.99" width="3.7" height="3.7" fill="#2fc8f6"/>
<rect x="201.45" y="424.43" width="3.7" height="3.7" fill="#2fc8f6"/>
<rect x="219.4" y="396.97" width="3.7" height="3.7" fill="#2fc8f6"/>
<rect x="237.35" y="399.72" width="3.7" height="3.7" fill="#2fc8f6"/>
<rect x="255.3" y="394.22" width="3.7" height="3.7" fill="#2fc8f6"/>
<rect x="273.25" y="405.21" width="3.7" height="3.7" fill="#2fc8f6"/>
<text x="63.7" y="401.57" font-size="6.2" fill="#2fc8f6" text-anchor="start" font-weight="bold" stroke="#2fc8f6" stroke-width="0.22">44</text>
<text x="77.65" y="362.37" font-size="6.2" fill="#2fc8f6" text-anchor="middle" font-weight="bold" stroke="#2fc8f6" stroke-width="0.22">57</text>
<text x="95.6" y="410.37" font-size="6.2" fill="#2fc8f6" text-anchor="middle" font-weight="bold" stroke="#2fc8f6" stroke-width="0.22">44</text>
<text x="113.55" y="410.37" font-size="6.2" fill="#2fc8f6" text-anchor="middle" font-weight="bold" stroke="#2fc8f6" stroke-width="0.22">44</text>
<text x="131.5" y="365.11" font-size="6.2" fill="#2fc8f6" text-anchor="middle" font-weight="bold" stroke="#2fc8f6" stroke-width="0.22">56</text>
<text x="149.45" y="413.11" font-size="6.2" fill="#2fc8f6" text-anchor="middle" font-weight="bold" stroke="#2fc8f6" stroke-width="0.22">43</text>
<text x="171.4" y="351.15" font-size="6.2" fill="#2fc8f6" text-anchor="start" font-weight="bold" stroke="#2fc8f6" stroke-width="0.22">64</text>
<text x="182.35" y="392.34" font-size="6.2" fill="#2fc8f6" text-anchor="end" font-weight="bold" stroke="#2fc8f6" stroke-width="0.22">49</text>
<text x="203.3" y="435.08" font-size="6.2" fill="#2fc8f6" text-anchor="middle" font-weight="bold" stroke="#2fc8f6" stroke-width="0.22">35</text>
<text x="221.25" y="407.62" font-size="6.2" fill="#2fc8f6" text-anchor="middle" font-weight="bold" stroke="#2fc8f6" stroke-width="0.22">45</text>
<text x="239.2" y="410.37" font-size="6.2" fill="#2fc8f6" text-anchor="middle" font-weight="bold" stroke="#2fc8f6" stroke-width="0.22">44</text>
<text x="257.15" y="392.57" font-size="6.2" fill="#2fc8f6" text-anchor="middle" font-weight="bold" stroke="#2fc8f6" stroke-width="0.22">46</text>
<text x="275.1" y="415.86" font-size="6.2" fill="#2fc8f6" text-anchor="middle" font-weight="bold" stroke="#2fc8f6" stroke-width="0.22">42</text>
<path d="M90 502.2H106" stroke="#3d3dff" stroke-width="0.9"/>
<path d="M98 500.6L99.6 502.2L98 503.8L96.4 502.2Z" fill="#0000e6"/>
<text x="107.8" y="504.04" font-size="5.4" fill="#111" stroke="#111" stroke-width="0.22">année en cours</text>
<path d="M172 502.2H188.3" stroke="#2fc8f6" stroke-width="0.9"/>
<rect x="178.65" y="500.7" width="3" height="3" fill="#2fc8f6"/>
<text x="189.5" y="504.04" font-size="5.4" fill="#111" stroke="#111" stroke-width="0.22">année précédente</text>
</g>
<g id="c3">
<rect x="119.4" y="519.8" width="106.2" height="12.9" fill="#fff"/>
<rect x="119.4" y="519.8" width="55.8" height="12.9" fill="#99cc00"/>
<rect x="119.4" y="519.8" width="106.2" height="12.9" fill="none" stroke="#111" stroke-width="1"/>
<text x="147.3" y="529.85" font-size="10" fill="#111" text-anchor="middle" stroke="#111" stroke-width="0.2">-27</text>
<text x="200.4" y="529.58" font-size="9.8" fill="#111" text-anchor="middle" stroke="#111" stroke-width="0.2">blessés</text>
<path d="M57.2 549.7V692H267.3" fill="none" stroke="#111" stroke-width="1.05"/>
<path d="M54.6 692h2.8M54.6 674.21h2.8M54.6 656.43h2.8M54.6 638.64h2.8M54.6 620.85h2.8M54.6 603.07h2.8M54.6 585.28h2.8M54.6 567.49h2.8M54.6 549.7h2.8M57.2 692v2.6M74.71 692v2.6M92.22 692v2.6M109.73 692v2.6M127.23 692v2.6M144.74 692v2.6M162.25 692v2.6M179.76 692v2.6M197.27 692v2.6M214.78 692v2.6M232.28 692v2.6M249.79 692v2.6M267.3 692v2.6" stroke="#111" stroke-width="1.05" fill="none"/>
<text x="50.6" y="694.16" font-size="6" fill="#111" text-anchor="end" stroke="#111" stroke-width="0.22">15</text>
<text x="50.6" y="676.37" font-size="6" fill="#111" text-anchor="end" stroke="#111" stroke-width="0.22">25</text>
<text x="50.6" y="658.59" font-size="6" fill="#111" text-anchor="end" stroke="#111" stroke-width="0.22">35</text>
<text x="50.6" y="640.8" font-size="6" fill="#111" text-anchor="end" stroke="#111" stroke-width="0.22">45</text>
<text x="50.6" y="623.01" font-size="6" fill="#111" text-anchor="end" stroke="#111" stroke-width="0.22">55</text>
<text x="50.6" y="605.23" font-size="6" fill="#111" text-anchor="end" stroke="#111" stroke-width="0.22">65</text>
<text x="50.6" y="587.44" font-size="6" fill="#111" text-anchor="end" stroke="#111" stroke-width="0.22">75</text>
<text x="50.6" y="569.65" font-size="6" fill="#111" text-anchor="end" stroke="#111" stroke-width="0.22">85</text>
<text x="50.6" y="551.86" font-size="6" fill="#111" text-anchor="end" stroke="#111" stroke-width="0.22">95</text>
<text x="57.2" y="705.2" font-size="6.5" fill="#111" text-anchor="middle" stroke="#111" stroke-width="0.22">mars</text>
<text x="92.22" y="705.2" font-size="6.5" fill="#111" text-anchor="middle" stroke="#111" stroke-width="0.22">mai</text>
<text x="127.23" y="705.2" font-size="6.5" fill="#111" text-anchor="middle" stroke="#111" stroke-width="0.22">juillet</text>
<text x="162.25" y="705.2" font-size="6.5" fill="#111" text-anchor="middle" stroke="#111" stroke-width="0.22">septembre</text>
<text x="197.27" y="705.2" font-size="6.5" fill="#111" text-anchor="middle" stroke="#111" stroke-width="0.22">novembre</text>
<text x="232.28" y="705.2" font-size="6.5" fill="#111" text-anchor="middle" stroke="#111" stroke-width="0.22">janvier</text>
<text x="267.3" y="705.2" font-size="6.5" fill="#111" text-anchor="middle" stroke="#111" stroke-width="0.22">mars</text>
<polyline points="57.2,636.86 74.71,624.41 92.22,597.73 109.73,661.76 127.23,571.05 144.74,611.96 162.25,567.49 179.76,604.84 197.27,627.97 214.78,619.07 232.28,649.31 249.79,642.2 267.3,684.89" fill="none" stroke="#2f5230" stroke-width="1.1" stroke-linejoin="round"/>
<path d="M57.2 634.56L59.5 636.86L57.2 639.16L54.9 636.86Z" fill="#003300"/>
<path d="M74.71 622.11L77.01 624.41L74.71 626.71L72.41 624.41Z" fill="#003300"/>
<path d="M92.22 595.43L94.52 597.73L92.22 600.03L89.92 597.73Z" fill="#003300"/>
<path d="M109.73 659.46L112.03 661.76L109.73 664.06L107.43 661.76Z" fill="#003300"/>
<path d="M127.23 568.75L129.53 571.05L127.23 573.35L124.93 571.05Z" fill="#003300"/>
<path d="M144.74 609.66L147.04 611.96L144.74 614.26L142.44 611.96Z" fill="#003300"/>
<path d="M162.25 565.19L164.55 567.49L162.25 569.79L159.95 567.49Z" fill="#003300"/>
<path d="M179.76 602.54L182.06 604.84L179.76 607.14L177.46 604.84Z" fill="#003300"/>
<path d="M197.27 625.67L199.57 627.97L197.27 630.27L194.97 627.97Z" fill="#003300"/>
<path d="M214.78 616.77L217.08 619.07L214.78 621.37L212.48 619.07Z" fill="#003300"/>
<path d="M232.28 647.01L234.58 649.31L232.28 651.61L229.98 649.31Z" fill="#003300"/>
<path d="M249.79 639.9L252.09 642.2L249.79 644.5L247.49 642.2Z" fill="#003300"/>
<path d="M267.3 682.59L269.6 684.89L267.3 687.19L265 684.89Z" fill="#003300"/>
<text x="61.2" y="640.36" font-size="6.2" fill="#1f3a12" text-anchor="start" font-weight="bold" stroke="#1f3a12" stroke-width="0.22">46</text>
<text x="76.71" y="632.61" font-size="6.2" fill="#1f3a12" text-anchor="middle" font-weight="bold" stroke="#1f3a12" stroke-width="0.22">53</text>
<text x="92.22" y="593.53" font-size="6.2" fill="#1f3a12" text-anchor="middle" font-weight="bold" stroke="#1f3a12" stroke-width="0.22">68</text>
<text x="109.73" y="670.36" font-size="6.2" fill="#1f3a12" text-anchor="middle" font-weight="bold" stroke="#1f3a12" stroke-width="0.22">32</text>
<text x="127.23" y="566.85" font-size="6.2" fill="#1f3a12" text-anchor="middle" font-weight="bold" stroke="#1f3a12" stroke-width="0.22">83</text>
<text x="144.74" y="620.56" font-size="6.2" fill="#1f3a12" text-anchor="middle" font-weight="bold" stroke="#1f3a12" stroke-width="0.22">60</text>
<text x="162.25" y="563.29" font-size="6.2" fill="#1f3a12" text-anchor="middle" font-weight="bold" stroke="#1f3a12" stroke-width="0.22">85</text>
<text x="183.26" y="603.34" font-size="6.2" fill="#1f3a12" text-anchor="start" font-weight="bold" stroke="#1f3a12" stroke-width="0.22">64</text>
<text x="197.27" y="636.57" font-size="6.2" fill="#1f3a12" text-anchor="middle" font-weight="bold" stroke="#1f3a12" stroke-width="0.22">51</text>
<text x="212.28" y="627.27" font-size="6.2" fill="#1f3a12" text-anchor="middle" font-weight="bold" stroke="#1f3a12" stroke-width="0.22">56</text>
<text x="232.28" y="658.91" font-size="6.2" fill="#1f3a12" text-anchor="middle" font-weight="bold" stroke="#1f3a12" stroke-width="0.22">39</text>
<text x="247.79" y="650.8" font-size="6.2" fill="#1f3a12" text-anchor="middle" font-weight="bold" stroke="#1f3a12" stroke-width="0.22">43</text>
<text x="270.8" y="684.89" font-size="6.2" fill="#1f3a12" text-anchor="start" font-weight="bold" stroke="#1f3a12" stroke-width="0.22">19</text>
<polyline points="57.2,627.97 74.71,588.84 92.22,624.41 109.73,620.85 127.23,608.4 144.74,610.18 162.25,578.16 179.76,611.96 197.27,613.74 214.78,615.52 232.28,631.52 249.79,631.52 267.3,636.86" fill="none" stroke="#57b184" stroke-width="1.2" stroke-linejoin="round"/>
<rect x="55.15" y="625.92" width="4.1" height="4.1" fill="#3fa36f"/>
<rect x="72.66" y="586.79" width="4.1" height="4.1" fill="#3fa36f"/>
<rect x="90.17" y="622.36" width="4.1" height="4.1" fill="#3fa36f"/>
<rect x="107.68" y="618.8" width="4.1" height="4.1" fill="#3fa36f"/>
<rect x="125.18" y="606.35" width="4.1" height="4.1" fill="#3fa36f"/>
<rect x="142.69" y="608.13" width="4.1" height="4.1" fill="#3fa36f"/>
<rect x="160.2" y="576.11" width="4.1" height="4.1" fill="#3fa36f"/>
<rect x="177.71" y="609.91" width="4.1" height="4.1" fill="#3fa36f"/>
<rect x="195.22" y="611.69" width="4.1" height="4.1" fill="#3fa36f"/>
<rect x="212.73" y="613.47" width="4.1" height="4.1" fill="#3fa36f"/>
<rect x="230.23" y="629.47" width="4.1" height="4.1" fill="#3fa36f"/>
<rect x="247.74" y="629.47" width="4.1" height="4.1" fill="#3fa36f"/>
<rect x="265.25" y="634.81" width="4.1" height="4.1" fill="#3fa36f"/>
<text x="61.2" y="628.47" font-size="6.2" fill="#3fa36f" text-anchor="start" font-weight="bold" stroke="#3fa36f" stroke-width="0.22">51</text>
<text x="74.71" y="585.34" font-size="6.2" fill="#3fa36f" text-anchor="middle" font-weight="bold" stroke="#3fa36f" stroke-width="0.22">73</text>
<text x="92.22" y="633.01" font-size="6.2" fill="#3fa36f" text-anchor="middle" font-weight="bold" stroke="#3fa36f" stroke-width="0.22">53</text>
<text x="109.73" y="617.35" font-size="6.2" fill="#3fa36f" text-anchor="middle" font-weight="bold" stroke="#3fa36f" stroke-width="0.22">55</text>
<text x="128.73" y="604.9" font-size="6.2" fill="#3fa36f" text-anchor="middle" font-weight="bold" stroke="#3fa36f" stroke-width="0.22">62</text>
<text x="149.24" y="609.18" font-size="6.2" fill="#3fa36f" text-anchor="start" font-weight="bold" stroke="#3fa36f" stroke-width="0.22">61</text>
<text x="167.25" y="579.66" font-size="6.2" fill="#3fa36f" text-anchor="start" font-weight="bold" stroke="#3fa36f" stroke-width="0.22">79</text>
<text x="176.76" y="620.96" font-size="6.2" fill="#3fa36f" text-anchor="middle" font-weight="bold" stroke="#3fa36f" stroke-width="0.22">60</text>
<text x="197.27" y="610.24" font-size="6.2" fill="#3fa36f" text-anchor="middle" font-weight="bold" stroke="#3fa36f" stroke-width="0.22">59</text>
<text x="214.78" y="612.02" font-size="6.2" fill="#3fa36f" text-anchor="middle" font-weight="bold" stroke="#3fa36f" stroke-width="0.22">58</text>
<text x="232.28" y="628.02" font-size="6.2" fill="#3fa36f" text-anchor="middle" font-weight="bold" stroke="#3fa36f" stroke-width="0.22">49</text>
<text x="249.79" y="628.02" font-size="6.2" fill="#3fa36f" text-anchor="middle" font-weight="bold" stroke="#3fa36f" stroke-width="0.22">49</text>
<text x="267.3" y="633.36" font-size="6.2" fill="#3fa36f" text-anchor="middle" font-weight="bold" stroke="#3fa36f" stroke-width="0.22">46</text>
<path d="M90 716.6H107" stroke="#2f5230" stroke-width="0.9"/>
<path d="M98.5 715L100.1 716.6L98.5 718.2L96.9 716.6Z" fill="#003300"/>
<text x="108.3" y="718.66" font-size="6.05" fill="#111" stroke="#111" stroke-width="0.22">année en cours</text>
<path d="M171.7 716.6H188" stroke="#57b184" stroke-width="0.9"/>
<rect x="178.15" y="714.9" width="3.4" height="3.4" fill="#3fa36f"/>
<text x="189.4" y="718.66" font-size="6.05" fill="#111" stroke="#111" stroke-width="0.22">année précédente</text>
</g>
<g id="c4">
<rect x="351.4" y="520" width="87.2" height="12.8" fill="#fff"/>
<rect x="351.4" y="520" width="43.8" height="12.8" fill="#99cc00"/>
<rect x="351.4" y="520" width="87.2" height="12.8" fill="none" stroke="#111" stroke-width="1"/>
<text x="373.3" y="530" font-size="10" fill="#111" text-anchor="middle" stroke="#111" stroke-width="0.2">0</text>
<text x="416.9" y="529.73" font-size="9.8" fill="#111" text-anchor="middle" stroke="#111" stroke-width="0.2">tué</text>
<path d="M308.8 546.5V693.5H516.2" fill="none" stroke="#111" stroke-width="1.05"/>
<path d="M306.2 693.5h2.8M306.2 664.1h2.8M306.2 634.7h2.8M306.2 605.3h2.8M306.2 575.9h2.8M306.2 546.5h2.8M308.8 693.5v2.6M326.08 693.5v2.6M343.37 693.5v2.6M360.65 693.5v2.6M377.93 693.5v2.6M395.22 693.5v2.6M412.5 693.5v2.6M429.78 693.5v2.6M447.07 693.5v2.6M464.35 693.5v2.6M481.63 693.5v2.6M498.92 693.5v2.6M516.2 693.5v2.6" stroke="#111" stroke-width="1.05" fill="none"/>
<text x="302.2" y="695.66" font-size="6" fill="#111" text-anchor="end" stroke="#111" stroke-width="0.22">0</text>
<text x="302.2" y="666.26" font-size="6" fill="#111" text-anchor="end" stroke="#111" stroke-width="0.22">2</text>
<text x="302.2" y="636.86" font-size="6" fill="#111" text-anchor="end" stroke="#111" stroke-width="0.22">4</text>
<text x="302.2" y="607.46" font-size="6" fill="#111" text-anchor="end" stroke="#111" stroke-width="0.22">6</text>
<text x="302.2" y="578.06" font-size="6" fill="#111" text-anchor="end" stroke="#111" stroke-width="0.22">8</text>
<text x="302.2" y="548.66" font-size="6" fill="#111" text-anchor="end" stroke="#111" stroke-width="0.22">10</text>
<text x="308.8" y="707.2" font-size="6.5" fill="#111" text-anchor="middle" stroke="#111" stroke-width="0.22">mars</text>
<text x="343.37" y="707.2" font-size="6.5" fill="#111" text-anchor="middle" stroke="#111" stroke-width="0.22">mai</text>
<text x="377.93" y="707.2" font-size="6.5" fill="#111" text-anchor="middle" stroke="#111" stroke-width="0.22">juillet</text>
<text x="412.5" y="707.2" font-size="6.5" fill="#111" text-anchor="middle" stroke="#111" stroke-width="0.22">septembre</text>
<text x="447.07" y="707.2" font-size="6.5" fill="#111" text-anchor="middle" stroke="#111" stroke-width="0.22">novembre</text>
<text x="481.63" y="707.2" font-size="6.5" fill="#111" text-anchor="middle" stroke="#111" stroke-width="0.22">janvier</text>
<text x="516.2" y="707.2" font-size="6.5" fill="#111" text-anchor="middle" stroke="#111" stroke-width="0.22">mars</text>
<polyline points="308.8,649.4 326.08,664.1 343.37,561.2 360.65,634.7 377.93,649.4 395.22,664.1 412.5,605.3 429.78,634.7 447.07,590.6 464.35,620 481.63,649.4 498.92,664.1 516.2,649.4" fill="none" stroke="#ff1a1a" stroke-width="1.2" stroke-linejoin="round"/>
<path d="M308.8 647.2L311 649.4L308.8 651.6L306.6 649.4Z" fill="#ff0000"/>
<path d="M326.08 661.9L328.28 664.1L326.08 666.3L323.88 664.1Z" fill="#ff0000"/>
<path d="M343.37 559L345.57 561.2L343.37 563.4L341.17 561.2Z" fill="#ff0000"/>
<path d="M360.65 632.5L362.85 634.7L360.65 636.9L358.45 634.7Z" fill="#ff0000"/>
<path d="M377.93 647.2L380.13 649.4L377.93 651.6L375.73 649.4Z" fill="#ff0000"/>
<path d="M395.22 661.9L397.42 664.1L395.22 666.3L393.02 664.1Z" fill="#ff0000"/>
<path d="M412.5 603.1L414.7 605.3L412.5 607.5L410.3 605.3Z" fill="#ff0000"/>
<path d="M429.78 632.5L431.98 634.7L429.78 636.9L427.58 634.7Z" fill="#ff0000"/>
<path d="M447.07 588.4L449.27 590.6L447.07 592.8L444.87 590.6Z" fill="#ff0000"/>
<path d="M464.35 617.8L466.55 620L464.35 622.2L462.15 620Z" fill="#ff0000"/>
<path d="M481.63 647.2L483.83 649.4L481.63 651.6L479.43 649.4Z" fill="#ff0000"/>
<path d="M498.92 661.9L501.12 664.1L498.92 666.3L496.72 664.1Z" fill="#ff0000"/>
<path d="M516.2 647.2L518.4 649.4L516.2 651.6L514 649.4Z" fill="#ff0000"/>
<text x="311.3" y="646.9" font-size="6.2" fill="#ff0000" text-anchor="start" font-weight="bold" stroke="#ff0000" stroke-width="0.22">3</text>
<text x="326.08" y="672.7" font-size="6.2" fill="#ff0000" text-anchor="middle" font-weight="bold" stroke="#ff0000" stroke-width="0.22">2</text>
<text x="343.37" y="556.7" font-size="6.2" fill="#ff0000" text-anchor="middle" font-weight="bold" stroke="#ff0000" stroke-width="0.22">9</text>
<text x="357.15" y="638.7" font-size="6.2" fill="#ff0000" text-anchor="end" font-weight="bold" stroke="#ff0000" stroke-width="0.22">4</text>
<text x="380.93" y="648.9" font-size="6.2" fill="#ff0000" text-anchor="start" font-weight="bold" stroke="#ff0000" stroke-width="0.22">3</text>
<text x="395.22" y="672.7" font-size="6.2" fill="#ff0000" text-anchor="middle" font-weight="bold" stroke="#ff0000" stroke-width="0.22">2</text>
<text x="412.5" y="600.8" font-size="6.2" fill="#ff0000" text-anchor="middle" font-weight="bold" stroke="#ff0000" stroke-width="0.22">6</text>
<text x="429.78" y="643.3" font-size="6.2" fill="#ff0000" text-anchor="middle" font-weight="bold" stroke="#ff0000" stroke-width="0.22">4</text>
<text x="447.07" y="586.1" font-size="6.2" fill="#ff0000" text-anchor="middle" font-weight="bold" stroke="#ff0000" stroke-width="0.22">7</text>
<text x="467.85" y="620.5" font-size="6.2" fill="#ff0000" text-anchor="start" font-weight="bold" stroke="#ff0000" stroke-width="0.22">5</text>
<text x="478.63" y="653.4" font-size="6.2" fill="#ff0000" text-anchor="end" font-weight="bold" stroke="#ff0000" stroke-width="0.22">3</text>
<text x="495.92" y="671.1" font-size="6.2" fill="#ff0000" text-anchor="middle" font-weight="bold" stroke="#ff0000" stroke-width="0.22">2</text>
<text x="516.2" y="658" font-size="6.2" fill="#ff0000" text-anchor="middle" font-weight="bold" stroke="#ff0000" stroke-width="0.22">3</text>
<polyline points="308.8,620 326.08,649.4 343.37,664.1 360.65,649.4 377.93,649.4 395.22,575.9 412.5,620 429.78,605.3 447.07,693.5 464.35,634.7 481.63,634.7 498.92,634.7 516.2,649.4" fill="none" stroke="#ff9a9a" stroke-width="1.25" stroke-linejoin="round"/>
<rect x="306.85" y="618.05" width="3.9" height="3.9" fill="#ff9a9a"/>
<rect x="324.13" y="647.45" width="3.9" height="3.9" fill="#ff9a9a"/>
<rect x="341.42" y="662.15" width="3.9" height="3.9" fill="#ff9a9a"/>
<rect x="358.7" y="647.45" width="3.9" height="3.9" fill="#ff9a9a"/>
<rect x="375.98" y="647.45" width="3.9" height="3.9" fill="#ff9a9a"/>
<rect x="393.27" y="573.95" width="3.9" height="3.9" fill="#ff9a9a"/>
<rect x="410.55" y="618.05" width="3.9" height="3.9" fill="#ff9a9a"/>
<rect x="427.83" y="603.35" width="3.9" height="3.9" fill="#ff9a9a"/>
<rect x="445.12" y="691.55" width="3.9" height="3.9" fill="#ff9a9a"/>
<rect x="462.4" y="632.75" width="3.9" height="3.9" fill="#ff9a9a"/>
<rect x="479.68" y="632.75" width="3.9" height="3.9" fill="#ff9a9a"/>
<rect x="496.97" y="632.75" width="3.9" height="3.9" fill="#ff9a9a"/>
<rect x="514.25" y="647.45" width="3.9" height="3.9" fill="#ff9a9a"/>
<text x="313.3" y="622" font-size="6.2" fill="#ff9a9a" text-anchor="start" stroke="#ff9a9a" stroke-width="0.22">5</text>
<text x="326.08" y="645.1" font-size="6.2" fill="#ff9a9a" text-anchor="middle" stroke="#ff9a9a" stroke-width="0.22">3</text>
<text x="343.37" y="672.7" font-size="6.2" fill="#ff9a9a" text-anchor="middle" stroke="#ff9a9a" stroke-width="0.22">2</text>
<text x="360.65" y="658" font-size="6.2" fill="#ff9a9a" text-anchor="middle" stroke="#ff9a9a" stroke-width="0.22">3</text>
<text x="377.93" y="658" font-size="6.2" fill="#ff9a9a" text-anchor="middle" stroke="#ff9a9a" stroke-width="0.22">3</text>
<text x="395.22" y="571.6" font-size="6.2" fill="#ff9a9a" text-anchor="middle" stroke="#ff9a9a" stroke-width="0.22">8</text>
<text x="412.5" y="628.6" font-size="6.2" fill="#ff9a9a" text-anchor="middle" stroke="#ff9a9a" stroke-width="0.22">5</text>
<text x="429.78" y="601" font-size="6.2" fill="#ff9a9a" text-anchor="middle" stroke="#ff9a9a" stroke-width="0.22">6</text>
<text x="440.57" y="690.5" font-size="6.2" fill="#ff9a9a" text-anchor="end" stroke="#ff9a9a" stroke-width="0.22">0</text>
<text x="464.35" y="630.4" font-size="6.2" fill="#ff9a9a" text-anchor="middle" stroke="#ff9a9a" stroke-width="0.22">4</text>
<text x="481.63" y="630.4" font-size="6.2" fill="#ff9a9a" text-anchor="middle" stroke="#ff9a9a" stroke-width="0.22">4</text>
<text x="498.92" y="630.4" font-size="6.2" fill="#ff9a9a" text-anchor="middle" stroke="#ff9a9a" stroke-width="0.22">4</text>
<text x="516.2" y="645.1" font-size="6.2" fill="#ff9a9a" text-anchor="middle" stroke="#ff9a9a" stroke-width="0.22">3</text>
<path d="M337 720.6H354" stroke="#ff1a1a" stroke-width="0.9"/>
<path d="M345.5 719L347.1 720.6L345.5 722.2L343.9 720.6Z" fill="#ff0000"/>
<text x="355" y="722.64" font-size="6" fill="#111" stroke="#111" stroke-width="0.22">année en cours</text>
<path d="M421 720.6H438" stroke="#ff9a9a" stroke-width="0.9"/>
<rect x="427.7" y="718.8" width="3.6" height="3.6" fill="#ff9a9a"/>
<text x="439.3" y="722.64" font-size="6" fill="#111" stroke="#111" stroke-width="0.22">année précédente</text>
</g>
<g id="c5">
<rect x="663.4" y="109.2" width="146.1" height="12.4" fill="#fff"/>
<rect x="663.4" y="109.2" width="60.3" height="12.4" fill="#99cc00"/>
<rect x="663.4" y="109.2" width="146.1" height="12.4" fill="none" stroke="#111" stroke-width="1"/>
<text x="693.55" y="118.86" font-size="9.6" fill="#111" text-anchor="middle" stroke="#111" stroke-width="0.2">-28</text>
<text x="766.6" y="118.77" font-size="9.9" fill="#111" text-anchor="middle" font-weight="bold" stroke="#111" stroke-width="0.2">accidents</text>
<path d="M590.5 132.3V205.5H1063" fill="none" stroke="#111" stroke-width="1.05"/>
<path d="M587.9 205.5h2.8M587.9 181.1h2.8M587.9 156.7h2.8M587.9 132.3h2.8M590.5 205.5v2.6M626.85 205.5v2.6M663.19 205.5v2.6M699.54 205.5v2.6M735.88 205.5v2.6M772.23 205.5v2.6M808.58 205.5v2.6M844.92 205.5v2.6M881.27 205.5v2.6M917.62 205.5v2.6M953.96 205.5v2.6M990.31 205.5v2.6M1026.65 205.5v2.6M1063 205.5v2.6" stroke="#111" stroke-width="1.05" fill="none"/>
<text x="583.9" y="207.37" font-size="5.2" fill="#111" text-anchor="end" stroke="#111" stroke-width="0.22">500</text>
<text x="583.9" y="182.97" font-size="5.2" fill="#111" text-anchor="end" stroke="#111" stroke-width="0.22">550</text>
<text x="583.9" y="158.57" font-size="5.2" fill="#111" text-anchor="end" stroke="#111" stroke-width="0.22">600</text>
<text x="583.9" y="134.17" font-size="5.2" fill="#111" text-anchor="end" stroke="#111" stroke-width="0.22">650</text>
<text x="590.5" y="218.5" font-size="6.4" fill="#111" text-anchor="middle" stroke="#111" stroke-width="0.22">février</text>
<text x="626.85" y="218.5" font-size="6.4" fill="#111" text-anchor="middle" stroke="#111" stroke-width="0.22">mars</text>
<text x="663.19" y="218.5" font-size="6.4" fill="#111" text-anchor="middle" stroke="#111" stroke-width="0.22">avril</text>
<text x="699.54" y="218.5" font-size="6.4" fill="#111" text-anchor="middle" stroke="#111" stroke-width="0.22">mai</text>
<text x="735.88" y="218.5" font-size="6.4" fill="#111" text-anchor="middle" stroke="#111" stroke-width="0.22">juin</text>
<text x="772.23" y="218.5" font-size="6.4" fill="#111" text-anchor="middle" stroke="#111" stroke-width="0.22">juillet</text>
<text x="808.58" y="218.5" font-size="6.4" fill="#111" text-anchor="middle" stroke="#111" stroke-width="0.22">août</text>
<text x="844.92" y="218.5" font-size="6.4" fill="#111" text-anchor="middle" stroke="#111" stroke-width="0.22">septembre</text>
<text x="881.27" y="218.5" font-size="6.4" fill="#111" text-anchor="middle" stroke="#111" stroke-width="0.22">octobre</text>
<text x="917.62" y="218.5" font-size="6.4" fill="#111" text-anchor="middle" stroke="#111" stroke-width="0.22">novembre</text>
<text x="953.96" y="218.5" font-size="6.4" fill="#111" text-anchor="middle" stroke="#111" stroke-width="0.22">décembre</text>
<text x="990.31" y="218.5" font-size="6.4" fill="#111" text-anchor="middle" stroke="#111" stroke-width="0.22">janvier</text>
<text x="1026.65" y="218.5" font-size="6.4" fill="#111" text-anchor="middle" stroke="#111" stroke-width="0.22">février</text>
<text x="1063" y="218.5" font-size="6.4" fill="#111" text-anchor="middle" stroke="#111" stroke-width="0.22">mars</text>
<polyline points="590.5,170.85 626.85,171.83 663.19,178.17 699.54,173.29 735.88,179.64 772.23,174.27 808.58,170.36 844.92,169.88 881.27,168.9 917.62,164.51 953.96,164.51 990.31,169.39 1026.65,174.27 1063,185.49" fill="none" stroke="#3d3dff" stroke-width="1.1" stroke-linejoin="round"/>
<path d="M590.5 168.55L592.8 170.85L590.5 173.15L588.2 170.85Z" fill="#0000e6"/>
<path d="M626.85 169.53L629.15 171.83L626.85 174.13L624.55 171.83Z" fill="#0000e6"/>
<path d="M663.19 175.87L665.49 178.17L663.19 180.47L660.89 178.17Z" fill="#0000e6"/>
<path d="M699.54 170.99L701.84 173.29L699.54 175.59L697.24 173.29Z" fill="#0000e6"/>
<path d="M735.88 177.34L738.18 179.64L735.88 181.94L733.58 179.64Z" fill="#0000e6"/>
<path d="M772.23 171.97L774.53 174.27L772.23 176.57L769.93 174.27Z" fill="#0000e6"/>
<path d="M808.58 168.06L810.88 170.36L808.58 172.66L806.28 170.36Z" fill="#0000e6"/>
<path d="M844.92 167.58L847.22 169.88L844.92 172.18L842.62 169.88Z" fill="#0000e6"/>
<path d="M881.27 166.6L883.57 168.9L881.27 171.2L878.97 168.9Z" fill="#0000e6"/>
<path d="M917.62 162.21L919.92 164.51L917.62 166.81L915.32 164.51Z" fill="#0000e6"/>
<path d="M953.96 162.21L956.26 164.51L953.96 166.81L951.66 164.51Z" fill="#0000e6"/>
<path d="M990.31 167.09L992.61 169.39L990.31 171.69L988.01 169.39Z" fill="#0000e6"/>
<path d="M1026.65 171.97L1028.95 174.27L1026.65 176.57L1024.35 174.27Z" fill="#0000e6"/>
<path d="M1063 183.19L1065.3 185.49L1063 187.79L1060.7 185.49Z" fill="#0000e6"/>
<text x="592.7" y="180.85" font-size="7.1" fill="#2a1fe0" text-anchor="start" font-weight="bold" stroke="#2a1fe0" stroke-width="0.22">571</text>
<text x="626.85" y="181.43" font-size="7.1" fill="#2a1fe0" text-anchor="middle" font-weight="bold" stroke="#2a1fe0" stroke-width="0.22">569</text>
<text x="663.19" y="187.77" font-size="7.1" fill="#2a1fe0" text-anchor="middle" font-weight="bold" stroke="#2a1fe0" stroke-width="0.22">556</text>
<text x="698.04" y="182.89" font-size="7.1" fill="#2a1fe0" text-anchor="middle" font-weight="bold" stroke="#2a1fe0" stroke-width="0.22">566</text>
<text x="735.88" y="189.24" font-size="7.1" fill="#2a1fe0" text-anchor="middle" font-weight="bold" stroke="#2a1fe0" stroke-width="0.22">553</text>
<text x="772.23" y="169.07" font-size="7.1" fill="#2a1fe0" text-anchor="middle" font-weight="bold" stroke="#2a1fe0" stroke-width="0.22">564</text>
<text x="808.58" y="165.16" font-size="7.1" fill="#2a1fe0" text-anchor="middle" font-weight="bold" stroke="#2a1fe0" stroke-width="0.22">572</text>
<text x="844.92" y="164.68" font-size="7.1" fill="#2a1fe0" text-anchor="middle" font-weight="bold" stroke="#2a1fe0" stroke-width="0.22">573</text>
<text x="881.27" y="163.7" font-size="7.1" fill="#2a1fe0" text-anchor="middle" font-weight="bold" stroke="#2a1fe0" stroke-width="0.22">575</text>
<text x="917.62" y="159.31" font-size="7.1" fill="#2a1fe0" text-anchor="middle" font-weight="bold" stroke="#2a1fe0" stroke-width="0.22">584</text>
<text x="953.96" y="159.31" font-size="7.1" fill="#2a1fe0" text-anchor="middle" font-weight="bold" stroke="#2a1fe0" stroke-width="0.22">584</text>
<text x="990.31" y="164.19" font-size="7.1" fill="#2a1fe0" text-anchor="middle" font-weight="bold" stroke="#2a1fe0" stroke-width="0.22">574</text>
<text x="1026.65" y="183.87" font-size="7.1" fill="#2a1fe0" text-anchor="middle" font-weight="bold" stroke="#2a1fe0" stroke-width="0.22">564</text>
<text x="1063" y="195.09" font-size="7.1" fill="#2a1fe0" text-anchor="middle" font-weight="bold" stroke="#2a1fe0" stroke-width="0.22">541</text>
<polyline points="590.5,168.41 626.85,168.9 663.19,168.9 699.54,172.32 735.88,177.68 772.23,176.22 808.58,177.2 844.92,170.36 881.27,169.39 917.62,177.2 953.96,178.17 990.31,178.17 1026.65,170.85 1063,171.83" fill="none" stroke="#2fc8f6" stroke-width="1" stroke-linejoin="round"/>
<rect x="588.2" y="166.11" width="4.6" height="4.6" fill="#2fc8f6"/>
<rect x="624.55" y="166.6" width="4.6" height="4.6" fill="#2fc8f6"/>
<rect x="660.89" y="166.6" width="4.6" height="4.6" fill="#2fc8f6"/>
<rect x="697.24" y="170.02" width="4.6" height="4.6" fill="#2fc8f6"/>
<rect x="733.58" y="175.38" width="4.6" height="4.6" fill="#2fc8f6"/>
<rect x="769.93" y="173.92" width="4.6" height="4.6" fill="#2fc8f6"/>
<rect x="806.28" y="174.9" width="4.6" height="4.6" fill="#2fc8f6"/>
<rect x="842.62" y="168.06" width="4.6" height="4.6" fill="#2fc8f6"/>
<rect x="878.97" y="167.09" width="4.6" height="4.6" fill="#2fc8f6"/>
<rect x="915.32" y="174.9" width="4.6" height="4.6" fill="#2fc8f6"/>
<rect x="951.66" y="175.87" width="4.6" height="4.6" fill="#2fc8f6"/>
<rect x="988.01" y="175.87" width="4.6" height="4.6" fill="#2fc8f6"/>
<rect x="1024.35" y="168.55" width="4.6" height="4.6" fill="#2fc8f6"/>
<rect x="1060.7" y="169.53" width="4.6" height="4.6" fill="#2fc8f6"/>
<text x="594.5" y="162.91" font-size="7.1" fill="#2fc8f6" text-anchor="start" font-weight="bold" stroke="#2fc8f6" stroke-width="0.22">576</text>
<text x="626.85" y="164.1" font-size="7.1" fill="#2fc8f6" text-anchor="middle" font-weight="bold" stroke="#2fc8f6" stroke-width="0.22">575</text>
<text x="661.19" y="163.4" font-size="7.1" fill="#2fc8f6" text-anchor="middle" font-weight="bold" stroke="#2fc8f6" stroke-width="0.22">575</text>
<text x="701.54" y="168.52" font-size="7.1" fill="#2fc8f6" text-anchor="middle" font-weight="bold" stroke="#2fc8f6" stroke-width="0.22">568</text>
<text x="735.88" y="172.88" font-size="7.1" fill="#2fc8f6" text-anchor="middle" font-weight="bold" stroke="#2fc8f6" stroke-width="0.22">557</text>
<text x="772.23" y="185.82" font-size="7.1" fill="#2fc8f6" text-anchor="middle" font-weight="bold" stroke="#2fc8f6" stroke-width="0.22">560</text>
<text x="808.58" y="186.8" font-size="7.1" fill="#2fc8f6" text-anchor="middle" font-weight="bold" stroke="#2fc8f6" stroke-width="0.22">558</text>
<text x="844.92" y="179.96" font-size="7.1" fill="#2fc8f6" text-anchor="middle" font-weight="bold" stroke="#2fc8f6" stroke-width="0.22">572</text>
<text x="881.27" y="178.99" font-size="7.1" fill="#2fc8f6" text-anchor="middle" font-weight="bold" stroke="#2fc8f6" stroke-width="0.22">574</text>
<text x="917.62" y="186.8" font-size="7.1" fill="#2fc8f6" text-anchor="middle" font-weight="bold" stroke="#2fc8f6" stroke-width="0.22">558</text>
<text x="953.96" y="187.77" font-size="7.1" fill="#2fc8f6" text-anchor="middle" font-weight="bold" stroke="#2fc8f6" stroke-width="0.22">556</text>
<text x="990.31" y="187.77" font-size="7.1" fill="#2fc8f6" text-anchor="middle" font-weight="bold" stroke="#2fc8f6" stroke-width="0.22">556</text>
<text x="1026.65" y="166.05" font-size="7.1" fill="#2fc8f6" text-anchor="middle" font-weight="bold" stroke="#2fc8f6" stroke-width="0.22">571</text>
<text x="1063" y="167.03" font-size="7.1" fill="#2fc8f6" text-anchor="middle" font-weight="bold" stroke="#2fc8f6" stroke-width="0.22">569</text>
<path d="M1079.5 156.3H1093.5" stroke="#3d3dff" stroke-width="0.8"/>
<path d="M1086.5 154.9L1087.9 156.3L1086.5 157.7L1085.1 156.3Z" fill="#0000e6"/>
<text x="1096" y="158.14" font-size="5.4" fill="#2a1fe0" stroke="#2a1fe0" stroke-width="0.22">année en</text>
<text x="1096" y="164.6" font-size="5.4" fill="#2a1fe0" stroke="#2a1fe0" stroke-width="0.22">cours</text>
<path d="M1079.5 177.8H1093.5" stroke="#2fc8f6" stroke-width="0.8"/>
<rect x="1085" y="176.3" width="3" height="3" fill="#2fc8f6"/>
<text x="1096" y="179.64" font-size="5.4" fill="#2a1fe0" stroke="#2a1fe0" stroke-width="0.22">année</text>
<text x="1096" y="186" font-size="5.4" fill="#2a1fe0" stroke="#2a1fe0" stroke-width="0.22">précédente</text>
</g>
<g id="c6">
<rect x="663.4" y="232.4" width="146.1" height="12.8" fill="#fff"/>
<rect x="663.4" y="232.4" width="60.3" height="12.8" fill="#99cc00"/>
<rect x="663.4" y="232.4" width="146.1" height="12.8" fill="none" stroke="#111" stroke-width="1"/>
<text x="693.55" y="242.18" font-size="9.4" fill="#111" text-anchor="middle" stroke="#111" stroke-width="0.2">-51</text>
<text x="766.6" y="241.93" font-size="9.2" fill="#111" text-anchor="middle" stroke="#111" stroke-width="0.2">blessés</text>
<path d="M590.5 258.1V336.7H842" fill="none" stroke="#111" stroke-width="1.05"/>
<path d="M587.9 336.7h2.8M587.9 297.4h2.8M587.9 258.1h2.8M590.5 336.7v2.6M609.85 336.7v2.6M629.19 336.7v2.6M648.54 336.7v2.6M667.88 336.7v2.6M687.23 336.7v2.6M706.58 336.7v2.6M725.92 336.7v2.6M745.27 336.7v2.6M764.62 336.7v2.6M783.96 336.7v2.6M803.31 336.7v2.6M822.65 336.7v2.6M842 336.7v2.6" stroke="#111" stroke-width="1.05" fill="none"/>
<text x="583.9" y="338.72" font-size="5.6" fill="#111" text-anchor="end" stroke="#111" stroke-width="0.22">600</text>
<text x="583.9" y="299.42" font-size="5.6" fill="#111" text-anchor="end" stroke="#111" stroke-width="0.22">700</text>
<text x="583.9" y="260.12" font-size="5.6" fill="#111" text-anchor="end" stroke="#111" stroke-width="0.22">800</text>
<text x="590.5" y="346.3" font-size="4.9" fill="#111" text-anchor="middle" font-weight="bold" stroke="#111" stroke-width="0.22">février</text>
<text x="629.19" y="346.3" font-size="4.9" fill="#111" text-anchor="middle" font-weight="bold" stroke="#111" stroke-width="0.22">avril</text>
<text x="667.88" y="346.3" font-size="4.9" fill="#111" text-anchor="middle" font-weight="bold" stroke="#111" stroke-width="0.22">juin</text>
<text x="706.58" y="346.3" font-size="4.9" fill="#111" text-anchor="middle" font-weight="bold" stroke="#111" stroke-width="0.22">août</text>
<text x="745.27" y="346.3" font-size="4.9" fill="#111" text-anchor="middle" font-weight="bold" stroke="#111" stroke-width="0.22">octobre</text>
<text x="783.96" y="346.3" font-size="4.9" fill="#111" text-anchor="middle" font-weight="bold" stroke="#111" stroke-width="0.22">décembre</text>
<text x="822.65" y="346.3" font-size="4.9" fill="#111" text-anchor="middle" font-weight="bold" stroke="#111" stroke-width="0.22">février</text>
<polyline points="590.5,293.86 609.85,295.83 629.19,303.69 648.54,297.79 667.88,306.83 687.23,298.58 706.58,298.97 725.92,296.61 745.27,295.04 764.62,298.19 783.96,298.97 803.31,302.9 822.65,305.26 842,315.87" fill="none" stroke="#2f5230" stroke-width="1" stroke-linejoin="round"/>
<path d="M590.5 291.56L592.8 293.86L590.5 296.16L588.2 293.86Z" fill="#003300"/>
<path d="M609.85 293.53L612.15 295.83L609.85 298.13L607.55 295.83Z" fill="#003300"/>
<path d="M629.19 301.39L631.49 303.69L629.19 305.99L626.89 303.69Z" fill="#003300"/>
<path d="M648.54 295.49L650.84 297.79L648.54 300.09L646.24 297.79Z" fill="#003300"/>
<path d="M667.88 304.53L670.18 306.83L667.88 309.13L665.58 306.83Z" fill="#003300"/>
<path d="M687.23 296.28L689.53 298.58L687.23 300.88L684.93 298.58Z" fill="#003300"/>
<path d="M706.58 296.67L708.88 298.97L706.58 301.27L704.28 298.97Z" fill="#003300"/>
<path d="M725.92 294.31L728.22 296.61L725.92 298.91L723.62 296.61Z" fill="#003300"/>
<path d="M745.27 292.74L747.57 295.04L745.27 297.34L742.97 295.04Z" fill="#003300"/>
<path d="M764.62 295.89L766.92 298.19L764.62 300.49L762.32 298.19Z" fill="#003300"/>
<path d="M783.96 296.67L786.26 298.97L783.96 301.27L781.66 298.97Z" fill="#003300"/>
<path d="M803.31 300.6L805.61 302.9L803.31 305.2L801.01 302.9Z" fill="#003300"/>
<path d="M822.65 302.96L824.95 305.26L822.65 307.56L820.35 305.26Z" fill="#003300"/>
<path d="M842 313.57L844.3 315.87L842 318.17L839.7 315.87Z" fill="#003300"/>
<text x="592.5" y="302.26" font-size="7.1" fill="#1f3a12" text-anchor="start" font-weight="bold" stroke="#1f3a12" stroke-width="0.22">709</text>
<text x="610.85" y="305.03" font-size="7.1" fill="#1f3a12" text-anchor="middle" font-weight="bold" stroke="#1f3a12" stroke-width="0.22">704</text>
<text x="629.19" y="312.59" font-size="7.1" fill="#1f3a12" text-anchor="middle" font-weight="bold" stroke="#1f3a12" stroke-width="0.22">684</text>
<text x="648.54" y="306.69" font-size="7.1" fill="#1f3a12" text-anchor="middle" font-weight="bold" stroke="#1f3a12" stroke-width="0.22">699</text>
<text x="667.88" y="315.73" font-size="7.1" fill="#1f3a12" text-anchor="middle" font-weight="bold" stroke="#1f3a12" stroke-width="0.22">676</text>
<text x="689.23" y="307.58" font-size="7.1" fill="#1f3a12" text-anchor="middle" font-weight="bold" stroke="#1f3a12" stroke-width="0.22">697</text>
<text x="706.58" y="307.87" font-size="7.1" fill="#1f3a12" text-anchor="middle" font-weight="bold" stroke="#1f3a12" stroke-width="0.22">696</text>
<text x="725.92" y="305.51" font-size="7.1" fill="#1f3a12" text-anchor="middle" font-weight="bold" stroke="#1f3a12" stroke-width="0.22">702</text>
<text x="745.27" y="303.94" font-size="7.1" fill="#1f3a12" text-anchor="middle" font-weight="bold" stroke="#1f3a12" stroke-width="0.22">706</text>
<text x="764.62" y="307.09" font-size="7.1" fill="#1f3a12" text-anchor="middle" font-weight="bold" stroke="#1f3a12" stroke-width="0.22">698</text>
<text x="783.96" y="307.87" font-size="7.1" fill="#1f3a12" text-anchor="middle" font-weight="bold" stroke="#1f3a12" stroke-width="0.22">696</text>
<text x="803.31" y="311.8" font-size="7.1" fill="#1f3a12" text-anchor="middle" font-weight="bold" stroke="#1f3a12" stroke-width="0.22">686</text>
<text x="822.65" y="314.16" font-size="7.1" fill="#1f3a12" text-anchor="middle" font-weight="bold" stroke="#1f3a12" stroke-width="0.22">680</text>
<text x="842" y="324.77" font-size="7.1" fill="#1f3a12" text-anchor="middle" font-weight="bold" stroke="#1f3a12" stroke-width="0.22">653</text>
<polyline points="590.5,287.18 609.85,288.75 629.19,290.72 648.54,291.9 667.88,297.01 687.23,298.97 706.58,295.04 725.92,291.11 745.27,291.5 764.62,293.86 783.96,294.65 803.31,297.4 822.65,293.86 842,295.83" fill="none" stroke="#57b184" stroke-width="1" stroke-linejoin="round"/>
<rect x="588.3" y="284.98" width="4.4" height="4.4" fill="#3fa36f"/>
<rect x="607.65" y="286.55" width="4.4" height="4.4" fill="#3fa36f"/>
<rect x="626.99" y="288.52" width="4.4" height="4.4" fill="#3fa36f"/>
<rect x="646.34" y="289.7" width="4.4" height="4.4" fill="#3fa36f"/>
<rect x="665.68" y="294.81" width="4.4" height="4.4" fill="#3fa36f"/>
<rect x="685.03" y="296.77" width="4.4" height="4.4" fill="#3fa36f"/>
<rect x="704.38" y="292.84" width="4.4" height="4.4" fill="#3fa36f"/>
<rect x="723.72" y="288.91" width="4.4" height="4.4" fill="#3fa36f"/>
<rect x="743.07" y="289.31" width="4.4" height="4.4" fill="#3fa36f"/>
<rect x="762.42" y="291.66" width="4.4" height="4.4" fill="#3fa36f"/>
<rect x="781.76" y="292.45" width="4.4" height="4.4" fill="#3fa36f"/>
<rect x="801.11" y="295.2" width="4.4" height="4.4" fill="#3fa36f"/>
<rect x="820.45" y="291.66" width="4.4" height="4.4" fill="#3fa36f"/>
<rect x="839.8" y="293.63" width="4.4" height="4.4" fill="#3fa36f"/>
<text x="592.5" y="282.18" font-size="7.1" fill="#3fa36f" text-anchor="start" stroke="#3fa36f" stroke-width="0.22">726</text>
<text x="611.15" y="285.35" font-size="7.1" fill="#3fa36f" text-anchor="middle" stroke="#3fa36f" stroke-width="0.22">722</text>
<text x="629.19" y="286.12" font-size="7.1" fill="#3fa36f" text-anchor="middle" stroke="#3fa36f" stroke-width="0.22">717</text>
<text x="648.54" y="287.3" font-size="7.1" fill="#3fa36f" text-anchor="middle" stroke="#3fa36f" stroke-width="0.22">714</text>
<text x="667.88" y="292.41" font-size="7.1" fill="#3fa36f" text-anchor="middle" stroke="#3fa36f" stroke-width="0.22">701</text>
<text x="687.23" y="294.37" font-size="7.1" fill="#3fa36f" text-anchor="middle" stroke="#3fa36f" stroke-width="0.22">696</text>
<text x="706.58" y="290.44" font-size="7.1" fill="#3fa36f" text-anchor="middle" stroke="#3fa36f" stroke-width="0.22">706</text>
<text x="725.92" y="286.51" font-size="7.1" fill="#3fa36f" text-anchor="middle" stroke="#3fa36f" stroke-width="0.22">716</text>
<text x="745.27" y="286.9" font-size="7.1" fill="#3fa36f" text-anchor="middle" stroke="#3fa36f" stroke-width="0.22">715</text>
<text x="764.62" y="289.26" font-size="7.1" fill="#3fa36f" text-anchor="middle" stroke="#3fa36f" stroke-width="0.22">709</text>
<text x="783.96" y="290.05" font-size="7.1" fill="#3fa36f" text-anchor="middle" stroke="#3fa36f" stroke-width="0.22">707</text>
<text x="803.31" y="292.8" font-size="7.1" fill="#3fa36f" text-anchor="middle" stroke="#3fa36f" stroke-width="0.22">700</text>
<text x="822.65" y="289.26" font-size="7.1" fill="#3fa36f" text-anchor="middle" stroke="#3fa36f" stroke-width="0.22">709</text>
<text x="842" y="291.23" font-size="7.1" fill="#3fa36f" text-anchor="middle" stroke="#3fa36f" stroke-width="0.22">704</text>
<path d="M630 353.2H646" stroke="#2f5230" stroke-width="0.9"/>
<path d="M638 351.6L639.6 353.2L638 354.8L636.4 353.2Z" fill="#003300"/>
<text x="647.3" y="355.65" font-size="7.2" fill="#333" stroke="#333" stroke-width="0.22">année en cours</text>
<path d="M709.5 353.2H725" stroke="#57b184" stroke-width="0.9"/>
<rect x="715.45" y="351.4" width="3.6" height="3.6" fill="#3fa36f"/>
<text x="726.2" y="355.65" font-size="7.2" fill="#333" stroke="#333" stroke-width="0.22">année précédente</text>
</g>
<g id="c7">
<rect x="934.2" y="232.6" width="118.4" height="12.6" fill="#fff"/>
<rect x="934.2" y="232.6" width="44.8" height="12.6" fill="#ff0000"/>
<rect x="934.2" y="232.6" width="118.4" height="12.6" fill="none" stroke="#111" stroke-width="1"/>
<text x="956.6" y="242.28" font-size="9.4" fill="#111" text-anchor="middle" stroke="#111" stroke-width="0.2">+5</text>
<text x="1015.8" y="242.03" font-size="9.2" fill="#111" text-anchor="middle" stroke="#111" stroke-width="0.2">tués</text>
<path d="M880.7 258.6V333.6H1120" fill="none" stroke="#111" stroke-width="1.05"/>
<path d="M878.1 333.6h2.8M878.1 318.6h2.8M878.1 303.6h2.8M878.1 288.6h2.8M878.1 273.6h2.8M878.1 258.6h2.8M880.7 333.6v2.6M899.11 333.6v2.6M917.52 333.6v2.6M935.92 333.6v2.6M954.33 333.6v2.6M972.74 333.6v2.6M991.15 333.6v2.6M1009.55 333.6v2.6M1027.96 333.6v2.6M1046.37 333.6v2.6M1064.78 333.6v2.6M1083.18 333.6v2.6M1101.59 333.6v2.6M1120 333.6v2.6" stroke="#111" stroke-width="1.05" fill="none"/>
<text x="874.1" y="335.87" font-size="6.3" fill="#111" text-anchor="end" stroke="#111" stroke-width="0.22">30</text>
<text x="874.1" y="320.87" font-size="6.3" fill="#111" text-anchor="end" stroke="#111" stroke-width="0.22">35</text>
<text x="874.1" y="305.87" font-size="6.3" fill="#111" text-anchor="end" stroke="#111" stroke-width="0.22">40</text>
<text x="874.1" y="290.87" font-size="6.3" fill="#111" text-anchor="end" stroke="#111" stroke-width="0.22">45</text>
<text x="874.1" y="275.87" font-size="6.3" fill="#111" text-anchor="end" stroke="#111" stroke-width="0.22">50</text>
<text x="874.1" y="260.87" font-size="6.3" fill="#111" text-anchor="end" stroke="#111" stroke-width="0.22">55</text>
<text x="880.7" y="346.3" font-size="4.9" fill="#111" text-anchor="middle" font-weight="bold" stroke="#111" stroke-width="0.22">février</text>
<text x="917.52" y="346.3" font-size="4.9" fill="#111" text-anchor="middle" font-weight="bold" stroke="#111" stroke-width="0.22">avril</text>
<text x="954.33" y="346.3" font-size="4.9" fill="#111" text-anchor="middle" font-weight="bold" stroke="#111" stroke-width="0.22">juin</text>
<text x="991.15" y="346.3" font-size="4.9" fill="#111" text-anchor="middle" font-weight="bold" stroke="#111" stroke-width="0.22">août</text>
<text x="1027.96" y="346.3" font-size="4.9" fill="#111" text-anchor="middle" font-weight="bold" stroke="#111" stroke-width="0.22">octobre</text>
<text x="1064.78" y="346.3" font-size="4.9" fill="#111" text-anchor="middle" font-weight="bold" stroke="#111" stroke-width="0.22">décembre</text>
<text x="1101.59" y="346.3" font-size="4.9" fill="#111" text-anchor="middle" font-weight="bold" stroke="#111" stroke-width="0.22">février</text>
<polyline points="880.7,282.6 899.11,288.6 917.52,291.6 935.92,270.6 954.33,267.6 972.74,267.6 991.15,285.6 1009.55,282.6 1027.96,288.6 1046.37,267.6 1064.78,264.6 1083.18,267.6 1101.59,273.6 1120,273.6" fill="none" stroke="#ff1a1a" stroke-width="1.5" stroke-linejoin="round"/>
<path d="M880.7 280.3L883 282.6L880.7 284.9L878.4 282.6Z" fill="#ff0000"/>
<path d="M899.11 286.3L901.41 288.6L899.11 290.9L896.81 288.6Z" fill="#ff0000"/>
<path d="M917.52 289.3L919.82 291.6L917.52 293.9L915.22 291.6Z" fill="#ff0000"/>
<path d="M935.92 268.3L938.22 270.6L935.92 272.9L933.62 270.6Z" fill="#ff0000"/>
<path d="M954.33 265.3L956.63 267.6L954.33 269.9L952.03 267.6Z" fill="#ff0000"/>
<path d="M972.74 265.3L975.04 267.6L972.74 269.9L970.44 267.6Z" fill="#ff0000"/>
<path d="M991.15 283.3L993.45 285.6L991.15 287.9L988.85 285.6Z" fill="#ff0000"/>
<path d="M1009.55 280.3L1011.85 282.6L1009.55 284.9L1007.25 282.6Z" fill="#ff0000"/>
<path d="M1027.96 286.3L1030.26 288.6L1027.96 290.9L1025.66 288.6Z" fill="#ff0000"/>
<path d="M1046.37 265.3L1048.67 267.6L1046.37 269.9L1044.07 267.6Z" fill="#ff0000"/>
<path d="M1064.78 262.3L1067.08 264.6L1064.78 266.9L1062.48 264.6Z" fill="#ff0000"/>
<path d="M1083.18 265.3L1085.48 267.6L1083.18 269.9L1080.88 267.6Z" fill="#ff0000"/>
<path d="M1101.59 271.3L1103.89 273.6L1101.59 275.9L1099.29 273.6Z" fill="#ff0000"/>
<path d="M1120 271.3L1122.3 273.6L1120 275.9L1117.7 273.6Z" fill="#ff0000"/>
<text x="882.7" y="279.1" font-size="7.1" fill="#ff0000" text-anchor="start" font-weight="bold" stroke="#ff0000" stroke-width="0.22">47</text>
<text x="900.11" y="298.1" font-size="7.1" fill="#ff0000" text-anchor="middle" font-weight="bold" stroke="#ff0000" stroke-width="0.22">45</text>
<text x="917.52" y="301.1" font-size="7.1" fill="#ff0000" text-anchor="middle" font-weight="bold" stroke="#ff0000" stroke-width="0.22">44</text>
<text x="933.92" y="266.6" font-size="7.1" fill="#ff0000" text-anchor="middle" font-weight="bold" stroke="#ff0000" stroke-width="0.22">51</text>
<text x="954.33" y="263.1" font-size="7.1" fill="#ff0000" text-anchor="middle" font-weight="bold" stroke="#ff0000" stroke-width="0.22">52</text>
<text x="972.74" y="263.1" font-size="7.1" fill="#ff0000" text-anchor="middle" font-weight="bold" stroke="#ff0000" stroke-width="0.22">52</text>
<text x="991.15" y="281.1" font-size="7.1" fill="#ff0000" text-anchor="middle" font-weight="bold" stroke="#ff0000" stroke-width="0.22">46</text>
<text x="1009.55" y="278.1" font-size="7.1" fill="#ff0000" text-anchor="middle" font-weight="bold" stroke="#ff0000" stroke-width="0.22">47</text>
<text x="1027.96" y="298.1" font-size="7.1" fill="#ff0000" text-anchor="middle" font-weight="bold" stroke="#ff0000" stroke-width="0.22">45</text>
<text x="1046.37" y="263.1" font-size="7.1" fill="#ff0000" text-anchor="middle" font-weight="bold" stroke="#ff0000" stroke-width="0.22">52</text>
<text x="1064.78" y="260.1" font-size="7.1" fill="#ff0000" text-anchor="middle" font-weight="bold" stroke="#ff0000" stroke-width="0.22">53</text>
<text x="1083.18" y="263.1" font-size="7.1" fill="#ff0000" text-anchor="middle" font-weight="bold" stroke="#ff0000" stroke-width="0.22">52</text>
<text x="1101.59" y="269.1" font-size="7.1" fill="#ff0000" text-anchor="middle" font-weight="bold" stroke="#ff0000" stroke-width="0.22">50</text>
<text x="1120" y="269.1" font-size="7.1" fill="#ff0000" text-anchor="middle" font-weight="bold" stroke="#ff0000" stroke-width="0.22">50</text>
<polyline points="880.7,297.6 899.11,285.6 917.52,291.6 935.92,294.6 954.33,300.6 972.74,315.6 991.15,303.6 1009.55,291.6 1027.96,279.6 1046.37,288.6 1064.78,285.6 1083.18,279.6 1101.59,282.6 1120,288.6" fill="none" stroke="#ff9a9a" stroke-width="1.3" stroke-linejoin="round"/>
<rect x="878.6" y="295.5" width="4.2" height="4.2" fill="#ff9a9a"/>
<rect x="897.01" y="283.5" width="4.2" height="4.2" fill="#ff9a9a"/>
<rect x="915.42" y="289.5" width="4.2" height="4.2" fill="#ff9a9a"/>
<rect x="933.82" y="292.5" width="4.2" height="4.2" fill="#ff9a9a"/>
<rect x="952.23" y="298.5" width="4.2" height="4.2" fill="#ff9a9a"/>
<rect x="970.64" y="313.5" width="4.2" height="4.2" fill="#ff9a9a"/>
<rect x="989.05" y="301.5" width="4.2" height="4.2" fill="#ff9a9a"/>
<rect x="1007.45" y="289.5" width="4.2" height="4.2" fill="#ff9a9a"/>
<rect x="1025.86" y="277.5" width="4.2" height="4.2" fill="#ff9a9a"/>
<rect x="1044.27" y="286.5" width="4.2" height="4.2" fill="#ff9a9a"/>
<rect x="1062.68" y="283.5" width="4.2" height="4.2" fill="#ff9a9a"/>
<rect x="1081.08" y="277.5" width="4.2" height="4.2" fill="#ff9a9a"/>
<rect x="1099.49" y="280.5" width="4.2" height="4.2" fill="#ff9a9a"/>
<rect x="1117.9" y="286.5" width="4.2" height="4.2" fill="#ff9a9a"/>
<text x="883.2" y="306.1" font-size="7.1" fill="#ff9a9a" text-anchor="start" stroke="#ff9a9a" stroke-width="0.22">42</text>
<text x="899.11" y="281.1" font-size="7.1" fill="#ff9a9a" text-anchor="middle" stroke="#ff9a9a" stroke-width="0.22">46</text>
<text x="917.52" y="287.1" font-size="7.1" fill="#ff9a9a" text-anchor="middle" stroke="#ff9a9a" stroke-width="0.22">44</text>
<text x="938.72" y="290.1" font-size="7.1" fill="#ff9a9a" text-anchor="middle" stroke="#ff9a9a" stroke-width="0.22">43</text>
<text x="949.33" y="308.6" font-size="7.1" fill="#ff9a9a" text-anchor="middle" stroke="#ff9a9a" stroke-width="0.22">41</text>
<text x="972.74" y="324.8" font-size="7.1" fill="#ff9a9a" text-anchor="middle" stroke="#ff9a9a" stroke-width="0.22">36</text>
<text x="991.15" y="312.8" font-size="7.1" fill="#ff9a9a" text-anchor="middle" stroke="#ff9a9a" stroke-width="0.22">40</text>
<text x="1012.05" y="300.1" font-size="7.1" fill="#ff9a9a" text-anchor="middle" stroke="#ff9a9a" stroke-width="0.22">44</text>
<text x="1027.96" y="275.1" font-size="7.1" fill="#ff9a9a" text-anchor="middle" stroke="#ff9a9a" stroke-width="0.22">48</text>
<text x="1046.37" y="297.8" font-size="7.1" fill="#ff9a9a" text-anchor="middle" stroke="#ff9a9a" stroke-width="0.22">45</text>
<text x="1064.78" y="294.8" font-size="7.1" fill="#ff9a9a" text-anchor="middle" stroke="#ff9a9a" stroke-width="0.22">46</text>
<text x="1083.18" y="288.8" font-size="7.1" fill="#ff9a9a" text-anchor="middle" stroke="#ff9a9a" stroke-width="0.22">48</text>
<text x="1101.59" y="291.8" font-size="7.1" fill="#ff9a9a" text-anchor="middle" stroke="#ff9a9a" stroke-width="0.22">47</text>
<text x="1123" y="297.1" font-size="7.1" fill="#ff9a9a" text-anchor="middle" stroke="#ff9a9a" stroke-width="0.22">45</text>
<path d="M917 353.2H933.5" stroke="#ff1a1a" stroke-width="1.3"/>
<path d="M925.25 351.5L926.95 353.2L925.25 354.9L923.55 353.2Z" fill="#ff0000"/>
<text x="934.8" y="355.65" font-size="7.2" fill="#333" stroke="#333" stroke-width="0.22">année en cours</text>
<path d="M996 353.2H1011.5" stroke="#ff9a9a" stroke-width="0.9"/>
<rect x="1001.95" y="351.4" width="3.6" height="3.6" fill="#ff9a9a"/>
<text x="1013" y="355.65" font-size="7.2" fill="#333" stroke="#333" stroke-width="0.22">année précédente</text>
</g>
</svg>
</body></html>
